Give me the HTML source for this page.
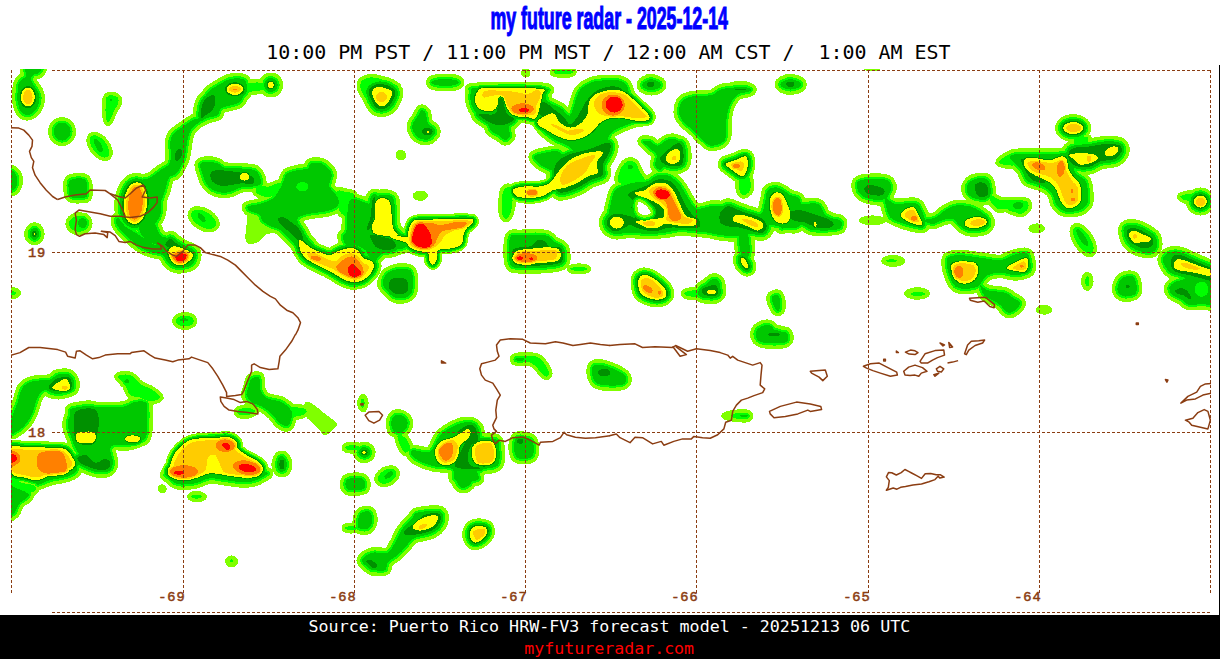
<!DOCTYPE html>
<html><head><meta charset="utf-8"><title>my future radar</title>
<style>
html,body{margin:0;padding:0;background:#fff;}
body{width:1220px;height:659px;position:relative;overflow:hidden;font-family:"Liberation Sans",sans-serif;}
#map{position:absolute;left:0;top:0;}
#foot{position:absolute;left:0;top:615px;width:1220px;height:44px;background:#000;}
#edge{position:absolute;left:1219px;top:65px;width:1px;height:550px;background:#000;}
.mono{font-family:"DejaVu Sans Mono","Liberation Mono",monospace;}
</style></head><body>
<div id="foot"></div><div id="edge"></div>
<svg id="map" width="1220" height="659" viewBox="0 0 1220 659">
<defs><clipPath id="mc"><rect x="11" y="69" width="1200" height="544"/></clipPath></defs>
<g clip-path="url(#mc)" shape-rendering="crispEdges">
<defs><path id="s0" d="M26 66C28.5 64.3 38.8 64.9 41 66C43.2 67.1 40.8 71 39.5 72.5C38.2 74 34.4 73.8 33 75C31.6 76.2 31 78 31 79.5C31 81 32 82.2 33 84C34 85.8 35.9 87.8 37 90C38.1 92.2 39.3 94.3 39.5 97C39.7 99.7 39.1 103.3 38 106C36.9 108.7 35 111.5 33 113C31 114.5 28.1 115.3 26 115C23.9 114.7 21.8 113 20.5 111C19.2 109 18.5 105.7 18 103C17.5 100.3 17.5 97.7 17.5 95C17.5 92.3 17.8 89 18 87C18.2 85 18.3 84.2 19 83C19.7 81.8 20.8 80.7 22 79.5C23.2 78.3 25.3 78.2 26 76C26.7 73.8 23.5 67.7 26 66Z"/><ellipse id="s1" cx="27.9" cy="97.2" rx="4.7" ry="7.2"/><path id="s2" d="M106.4 97.6C107.4 95.9 109.5 95.1 111.4 95.1C113.3 95.1 116.5 96.1 117.7 97.6C118.8 99 118.7 101.7 118.2 103.8C117.6 105.9 115.7 107.6 114.4 110.1C113.2 112.6 111.8 116.8 110.7 118.8C109.5 120.9 108.5 123.2 107.7 122.6C106.8 122 106 118 105.7 115.1C105.3 112.2 105.5 108 105.7 105.1C105.8 102.1 105.4 99.2 106.4 97.6Z"/><ellipse id="s3" cx="110.9" cy="100.1" rx="1" ry="1"/><ellipse id="s4" cx="62.1" cy="131.6" rx="8.5" ry="9"/><ellipse id="s5" cx="99.6" cy="146.4" rx="7" ry="13" transform="rotate(-38 99.6 146.4)"/><ellipse id="s6" cx="98.4" cy="145.6" rx="3" ry="7.5" transform="rotate(-28 98.4 145.6)"/><path id="s7" d="M201.1 111.8C201.8 109.1 202.6 104.9 203.8 101.6C205 98.3 205.2 95.1 208.1 92C210.9 89 217.2 85.5 221.1 83.3C225 81.1 227.6 79.4 231.3 78.8C235.1 78.1 241.1 78.1 243.6 79.3C246.2 80.5 246.6 83.5 246.6 86C246.6 88.6 244.7 91.8 243.6 94.6C242.5 97.3 241.9 100.5 239.9 102.3C237.8 104.1 234.5 104.3 231.3 105.3C228.2 106.3 223.4 106.7 221.1 108.3C218.8 109.9 219.3 113.6 217.6 115.1C215.9 116.5 213.1 116.3 210.8 117.1C208.5 117.8 206.1 118.4 203.8 119.6C201.5 120.8 198.8 122.5 196.8 124.1C194.8 125.7 193 127.1 191.5 129.1C190.1 131.1 189.1 133.2 188.3 136.1C187.4 139 187.1 142.9 186.5 146.4C185.9 149.8 185.7 153.7 184.8 156.9C183.9 160.1 182.7 162.5 181.3 165.4C179.8 168.3 178.1 172.1 176 174.2C174 176.2 170.8 175 169 177.7C167.2 180.3 166.7 186 165.2 190.2C163.8 194.4 162.3 199.4 160.2 202.7C158.2 206.1 154.8 210.6 152.7 210.2C150.6 209.8 148.6 204.4 147.7 200.2C146.9 196 149 188.4 147.7 185.2C146.5 181.9 139.8 181.9 140.2 180.7C140.6 179.4 146.9 179.4 150.2 177.7C153.6 175.9 157.1 172.5 160.2 170.2C163.4 167.9 167.5 166.7 169.3 163.9C171 161.1 170.9 156.9 171 153.4C171.1 149.9 169.7 146.3 170 143.1C170.3 140 171.2 136.7 172.8 134.4C174.3 132 177.2 130.8 179.5 129.1C181.8 127.4 184.2 125.7 186.5 124.1C188.9 122.5 191.4 120.6 193.5 119.6C195.7 118.5 198.3 119.1 199.5 117.8C200.8 116.5 200.3 114.5 201.1 111.8Z"/><path id="s8" d="M202.1 105.1C203.1 101.6 205.3 98.9 207.3 97.3C209.3 95.7 212.8 94.6 214.1 95.6C215.4 96.6 215.4 100.9 215.1 103.3C214.8 105.7 213.9 108.1 212.3 110.1C210.7 112.1 207.4 114 205.6 115.3C203.7 116.6 201.6 119.5 201.1 117.8C200.5 116.1 201 108.5 202.1 105.1Z"/><ellipse id="s9" cx="178.3" cy="155.1" rx="3.3" ry="6.3" transform="rotate(20 178.3 155.1)"/><ellipse id="s10" cx="234.9" cy="89.3" rx="6" ry="3.3"/><ellipse id="s11" cx="234.9" cy="89.3" rx="2" ry="0.4"/><ellipse id="s12" cx="270.9" cy="85" rx="2.8" ry="3"/><path id="s13" d="M246.6 83.8C249.3 82.4 260.2 82.1 262.9 83C265.6 84 265.6 88.2 262.9 89.5C260.2 90.9 249.3 92.3 246.6 91.3C243.9 90.3 243.9 85.2 246.6 83.8Z"/><ellipse id="s14" cx="135.5" cy="203.2" rx="7.3" ry="16.5" transform="rotate(5 135.5 203.2)"/><ellipse id="s15" cx="134.5" cy="213" rx="1.8" ry="0.5"/><ellipse id="s16" cx="10" cy="180.7" rx="7.5" ry="10.5"/><path id="s17" d="M70.1 180.2C72.8 178.4 82.3 177.2 85.1 179.7C88 182.2 87.5 192.2 87.1 195.2C86.7 198.2 85.3 197.4 82.6 197.7C80 198 73.7 198.5 71.4 197.2C69.1 196 69.1 193 68.9 190.2C68.6 187.4 67.4 181.9 70.1 180.2Z"/><path id="s18" d="M471.3 91.3C472.4 89.3 465.6 88.6 477.5 88C489.4 87.5 531.1 86.9 542.6 88C554.1 89.2 546 90.5 546.4 95C546.8 99.6 546.2 110.7 545.1 115.1C544.1 119.5 542.6 120.7 540.1 121.3C537.6 122 533.4 119.5 530.1 118.8C526.8 118.2 523.2 117.2 520.1 117.6C517 118 513.2 119.7 511.3 121.3C509.4 123 509 125.1 508.8 127.6C508.6 130.1 510.7 134.3 510.1 136.4C509.4 138.4 506.9 140.2 505.1 140.1C503.2 140 501.1 137.1 498.8 135.6C496.5 134.1 493.2 133.3 491.3 131.3C489.4 129.4 489.2 126.1 487.5 123.8C485.9 121.5 483.6 119.9 481.3 117.6C479 115.3 475.6 113 473.8 110.1C472 107.1 470.9 103.2 470.5 100.1C470.1 96.9 470.1 93.3 471.3 91.3Z"/><path id="s19" d="M478.8 113.8C480 112.6 491.7 116.1 495.1 113.8C498.4 111.5 497.6 102.6 498.8 100.1C500.1 97.5 501.3 96.7 502.6 98.8C503.8 100.9 504.4 109.2 506.3 112.6C508.2 115.9 513.6 117 513.8 118.8C514 120.7 510.3 122.8 507.6 123.8C504.9 124.9 500.9 125.5 497.6 125.1C494.2 124.7 490.7 123.2 487.5 121.3C484.4 119.5 477.5 115.1 478.8 113.8Z"/><path id="s20" d="M475 97.5C475.3 94.8 476.7 91.6 478.8 90C480.9 88.5 477.3 88.5 487.5 88.3C497.8 88.1 531 87.7 540.1 88.8C549.2 89.9 542.1 92.3 542.1 95C542.1 97.8 540.9 101.7 540.1 105.1C539.4 108.4 538.7 112.8 537.6 115.1C536.6 117.4 535.9 118.6 533.9 118.8C531.8 119 528.2 117.2 525.1 116.3C522 115.5 518 115.1 515.1 113.8C512.2 112.6 509.3 111.1 507.6 108.8C505.8 106.5 505.6 102.1 504.6 100.1C503.5 98 502.4 96.5 501.3 96.3C500.2 96.1 498.8 97.1 498.1 98.8C497.3 100.5 498 104.4 497.1 106.3C496.1 108.3 494.8 109.9 492.5 110.6C490.3 111.3 486.4 111.3 483.8 110.6C481.2 109.9 478.5 108.5 477 106.3C475.6 104.1 474.7 100.3 475 97.5Z"/><path id="s21" d="M482.5 93.8C483.2 92.6 483 91 487.5 90.5C492.1 90.1 504.7 90.9 510.1 91.3C515.5 91.7 517 92.6 520.1 93C523.2 93.5 526.3 94.2 528.9 93.8C531.4 93.4 533.2 91 535.1 90.5C537 90.1 539.3 90.1 540.1 91.3C541 92.5 540.7 95.3 540.1 97.5C539.5 99.8 537.2 102.3 536.4 105.1C535.5 107.8 536.6 112.2 535.1 113.8C533.7 115.5 530.5 115.1 527.6 115.1C524.7 115.1 520.5 114.7 517.6 113.8C514.7 113 512 111.9 510.1 110.1C508.2 108.2 507.4 104.9 506.3 102.6C505.3 100.3 505.3 97.5 503.8 96.3C502.4 95 499.9 95 497.6 95C495.3 95 492.3 95.9 490 96.3C487.7 96.7 485 98 483.8 97.5C482.5 97.1 481.9 95 482.5 93.8Z"/><ellipse id="s22" cx="522.6" cy="108.8" rx="11.3" ry="5.5"/><ellipse id="s23" cx="524.1" cy="110.1" rx="5" ry="2"/><path id="s24" d="M578.9 91.3C582.5 85.9 587.7 84.3 591.4 82.5C595.2 80.7 596.9 80.9 601.5 80.5C606.1 80.2 614.8 79.8 619 80.5C623.2 81.3 624.6 82.6 626.5 85C628.4 87.5 628 91.7 630.3 95C632.6 98.4 637.1 101.9 640.3 105.1C643.4 108.2 647.6 111.5 649 113.8C650.5 116.1 651.3 117.5 649 118.8C646.7 120.2 640.1 120.6 635.3 122.1C630.5 123.5 624.4 125.6 620.2 127.6C616.1 129.6 612.7 130.5 610.2 133.9C607.7 137.2 606.9 143.2 605.2 147.6C603.5 152 603.5 157.2 600.2 160.1C596.9 163.1 590.2 167.2 585.2 165.2C580.2 163.1 575.2 151.8 570.2 147.6C565.2 143.5 559.7 143 555.1 140.1C550.6 137.2 545.5 133.4 542.6 130.1C539.7 126.8 537.6 124.7 537.6 120.1C537.6 115.5 538.9 104.6 542.6 102.6C546.4 100.5 555.6 105.5 560.2 107.6C564.7 109.7 567 117.8 570.2 115.1C573.3 112.4 575.4 96.7 578.9 91.3Z"/><path id="s25" d="M537.6 105.1C538.5 103 542.2 101.7 545.1 102.6C548 103.4 552.1 107.8 555.1 110.1C558.1 112.4 560.7 113.9 563.2 116.3C565.7 118.7 567.8 124.5 570.2 124.6C572.5 124.7 575.1 119.9 577.2 117.1C579.3 114.2 580.7 110.8 582.7 107.6C584.6 104.3 586.2 100.6 588.9 97.5C591.7 94.5 595.2 91.4 599 89.5C602.7 87.7 607.9 86.5 611.5 86.3C615 86 618.8 87 620.2 88C621.7 89.1 623.6 91.4 620.2 92.5C616.9 93.7 605.2 93 600.2 95C595.2 97.1 592.7 101.3 590.2 105.1C587.7 108.8 588.5 113.6 585.2 117.6C581.8 121.5 574.3 127.8 570.2 128.8C566 129.9 563.5 125.9 560.2 123.8C556.8 121.8 553.5 117.8 550.1 116.3C546.8 114.9 542.2 117 540.1 115.1C538 113.2 536.8 107.1 537.6 105.1Z"/><path id="s26" d="M537.6 121.3C538.7 119.5 543.7 116.3 546.4 115.1C549.1 113.8 551.6 112.6 553.9 113.8C556.2 115.1 557.4 120.3 560.2 122.6C562.9 124.9 566.8 127.4 570.2 127.6C573.5 127.8 577.3 126.1 580.2 123.8C583.1 121.5 586.2 117.4 587.7 113.8C589.2 110.3 587.7 105.8 588.9 102.6C590.2 99.3 591.7 96.6 595.2 94.5C598.7 92.5 605.6 90.6 610.2 90C614.8 89.5 619 89.8 622.7 91.3C626.5 92.7 629.4 95.9 632.8 98.8C636.1 101.7 640.1 106.1 642.8 108.8C645.5 111.5 648.2 113.2 649 115.1C649.9 117 650.1 119.2 647.8 120.1C645.5 121 639.9 121 635.3 120.6C630.7 120.2 624.8 117.9 620.2 117.6C615.7 117.3 611.3 117.8 607.7 118.8C604.2 119.9 601.5 121.8 599 123.8C596.5 125.9 595.4 129.1 592.7 131.3C590 133.6 586.4 136.1 582.7 137.6C578.9 139.1 574.3 140.3 570.2 140.1C566 139.9 561.4 137.9 557.6 136.4C553.9 134.8 550.6 132.3 547.6 130.6C544.7 128.9 541.8 127.9 540.1 126.3C538.5 124.8 536.6 123.2 537.6 121.3Z"/><ellipse id="s27" cx="614.2" cy="104.6" rx="8.5" ry="8"/><ellipse id="s28" cx="613.2" cy="105.1" rx="11.5" ry="10.5"/><path id="s29" d="M550.1 123.8C550.3 124.5 556.4 128.7 560.2 130.6C563.9 132.5 568.7 135.1 572.7 135.1C576.6 135.1 583.1 131.6 583.9 130.6C584.8 129.6 580.4 128.8 577.7 128.8C575 128.8 570.8 131 567.7 130.6C564.5 130.2 561.8 127.5 558.9 126.3C556 125.2 549.9 123.1 550.1 123.8Z"/><path id="s30" d="M594 102.6C594.4 99.6 597.1 96.3 600.2 94.5C603.3 92.8 608.6 92 612.7 92C616.9 92.1 621.9 93.3 625.2 95C628.6 96.8 629.8 99.6 632.8 102.6C635.7 105.5 640.5 110.2 642.8 112.6C645.1 115 647.8 116.2 646.5 117.1C645.3 118 639.2 118.2 635.3 118.1C631.3 118 627.3 116.6 622.7 116.3C618.2 116 611.9 117 607.7 116.3C603.5 115.7 600 114.9 597.7 112.6C595.4 110.3 593.5 105.6 594 102.6Z"/><path id="s31" d="M555.1 165.2C557.2 160.6 561.8 157.8 567.7 155.1C573.5 152.4 583.5 151 590.2 148.9C596.9 146.8 604.4 142.4 607.7 142.6C611.1 142.8 611.1 146.4 610.2 150.1C609.4 153.9 604 161 602.7 165.2C601.5 169.3 604.8 172.7 602.7 175.2C600.6 177.7 594.4 178.1 590.2 180.2C586 182.3 582.7 185.6 577.7 187.7C572.7 189.8 563.9 193.5 560.2 192.7C556.4 191.9 556 187.3 555.1 182.7C554.3 178.1 553.1 169.7 555.1 165.2Z"/><path id="s32" d="M513.8 188.9C515.5 187.5 520.7 186.8 525.1 186.4C529.5 186 535.9 187.1 540.1 186.4C544.3 185.8 547.2 185 550.1 182.7C553.1 180.4 554.7 176.2 557.6 172.7C560.6 169.1 563.5 164.5 567.7 161.4C571.8 158.3 577.3 155.6 582.7 153.9C588.1 152.2 597 151.2 600.2 151.4C603.5 151.6 602.8 153.3 602.2 155.1C601.6 157 597.2 159.7 596.5 162.6C595.7 165.6 599.2 170.4 597.7 172.7C596.2 175 591 174.7 587.7 176.4C584.4 178.1 581.4 180.8 577.7 182.7C573.9 184.6 569.3 186.4 565.2 187.7C561 188.9 556 188.9 552.6 190.2C549.3 191.4 548 193.9 545.1 195.2C542.2 196.4 538.9 197.3 535.1 197.7C531.4 198.1 525.9 198.1 522.6 197.7C519.3 197.3 516.5 196.7 515.1 195.2C513.6 193.7 512.2 190.4 513.8 188.9Z"/><path id="s33" d="M560.2 177.7C561 174.4 563.9 168.4 567.7 165.2C571.4 161.9 578.1 159.8 582.7 158.1C587.3 156.5 594 154.2 595.2 155.1C596.5 156.1 591.9 161 590.2 163.9C588.5 166.8 588.1 169.7 585.2 172.7C582.3 175.6 576.4 179.4 572.7 181.4C568.9 183.4 564.7 185.3 562.7 184.7C560.6 184.1 559.3 180.9 560.2 177.7Z"/><ellipse id="s34" cx="532.1" cy="192.7" rx="5" ry="2.8"/><ellipse id="s35" cx="651.5" cy="85" rx="9.5" ry="5"/><ellipse id="s36" cx="650.8" cy="84.5" rx="3.5" ry="2.8"/><path id="s37" d="M679.1 108.8C679.6 106.1 680.5 102.1 682.8 100.1C685.1 98 688.1 97.1 692.8 96.3C697.6 95.5 706.6 96.3 711.6 95C716.6 93.8 716.8 90 722.9 88.8C728.9 87.6 743.4 87.6 747.9 88C752.4 88.5 751.6 90.2 749.9 91.3C748.3 92.4 741.2 92.5 737.9 94.5C734.7 96.6 732.3 100 730.4 103.8C728.5 107.6 727.4 112.2 726.6 117.6C725.9 123 726.7 132.1 725.9 136.4C725.1 140.6 724.2 141.6 721.6 143.1C719.1 144.7 713.5 146.1 710.4 145.6C707.2 145.1 705.6 142.5 702.9 140.1C700.2 137.7 697 134.1 694.1 131.3C691.2 128.6 687.7 126.3 685.3 123.8C683 121.3 680.9 118.8 679.8 116.3C678.8 113.8 678.6 111.5 679.1 108.8Z"/><ellipse id="s38" cx="740.4" cy="89.5" rx="5.5" ry="0.5"/><path id="s39" d="M725.4 163.9C726 162.3 732.1 161.4 735.4 160.1C738.8 158.9 743.3 155.6 745.4 156.4C747.5 157.2 748.1 162 747.9 165.2C747.7 168.3 745.6 173.5 744.2 175.2C742.7 176.8 741.3 176.1 739.2 175.2C737.1 174.2 734 171.5 731.7 169.7C729.4 167.8 724.8 165.5 725.4 163.9Z"/><path id="s40" d="M730.4 164.6C731.2 163.5 738.1 161.5 740.4 161.4C742.7 161.3 744 162.2 744.2 163.9C744.4 165.6 743.1 170.7 741.7 171.4C740.2 172.1 737.3 169.3 735.4 168.2C733.5 167 729.6 165.8 730.4 164.6Z"/><ellipse id="s41" cx="736.7" cy="165.9" rx="3.5" ry="2"/><path id="s42" d="M642.8 141.4C642.8 140.1 647.8 140.7 650.3 141.4C652.8 142.1 654.9 145.9 657.8 145.6C660.7 145.3 664.6 140.5 667.8 139.6C671.1 138.7 675.3 138.8 677.3 140.1C679.3 141.4 679.4 143.9 679.8 147.6C680.2 151.4 680.6 159.7 679.8 162.6C679.1 165.6 677.7 164.7 675.3 165.2C672.9 165.6 667.8 164.3 665.3 165.2C662.8 166 662 170.2 660.3 170.2C658.6 170.2 655.9 167.7 655.3 165.2C654.7 162.6 657.4 157.8 656.5 155.1C655.7 152.4 652.6 151.2 650.3 148.9C648 146.6 642.8 142.6 642.8 141.4Z"/><path id="s43" d="M660.3 157.6C660.9 155.3 664.9 152.5 667.8 150.1C670.7 147.7 675.3 143.5 677.8 143.1C680.3 142.7 682 144.4 682.8 147.6C683.7 150.9 684.1 159.5 682.8 162.6C681.6 165.8 678.5 166.2 675.3 166.4C672.2 166.6 666.6 165.4 664.1 163.9C661.6 162.4 659.7 159.9 660.3 157.6Z"/><path id="s44" d="M665.8 157.6C666.2 155.8 668.4 152.8 670.3 151.4C672.2 149.9 675.7 148.5 677.3 148.9C679 149.3 680 151.8 680.3 153.9C680.6 156 680.3 159.7 679.1 161.4C677.8 163.1 674.7 163.8 672.8 163.9C670.9 164 669 163.2 667.8 162.1C666.6 161.1 665.4 159.4 665.8 157.6Z"/><ellipse id="s45" cx="674.3" cy="158.1" rx="2.3" ry="2.3"/><path id="s46" d="M368.8 90.5C369.7 88 373.4 85.5 376.4 84.5C379.3 83.6 383.2 83.9 386.4 85C389.5 86.2 394.1 88.6 395.1 91.3C396.2 94 394.1 98.5 392.6 101.3C391.2 104.1 389 106.9 386.4 108.1C383.8 109.2 379.6 109.4 377.1 108.1C374.6 106.7 372.7 103 371.3 100.1C370 97.1 368 93.1 368.8 90.5Z"/><path id="s47" d="M534.1 156.4C534.9 154.8 538.9 154 542.9 153.1C546.8 152.3 554.1 150.2 557.9 151.4C561.6 152.6 565.8 157 565.4 160.2C565 163.3 558.7 168.9 555.4 170.2C552 171.4 548.3 168.9 545.4 167.7C542.4 166.4 539.7 164.5 537.8 162.7C536 160.8 533.3 158 534.1 156.4Z"/><path id="s48" d="M361.3 81.3C362.9 79.4 367 77.9 370.1 77.5C373.2 77.1 376.8 77.7 380.1 78.8C383.5 79.8 387.2 82.5 390.1 83.8C393 85 396.5 84.4 397.6 86.3C398.8 88.2 398.2 92.1 397.1 95.1C396.1 98 393.4 101.3 391.4 103.8C389.4 106.3 387.4 108.9 385.1 110.1C382.8 111.2 379.9 111.5 377.6 110.8C375.3 110.2 373.4 108.5 371.3 106.3C369.3 104.1 366.9 100.5 365.1 97.6C363.3 94.6 361.2 91.5 360.6 88.8C360 86.1 359.7 83.2 361.3 81.3Z"/><path id="s49" d="M372.1 91.3C372.7 89.3 375.4 87.6 377.6 87C379.8 86.5 382.7 87.2 385.1 88C387.5 88.9 391.4 90 392.1 92C392.9 94.1 390.9 97.8 389.6 100.1C388.4 102.3 386.5 104.7 384.6 105.6C382.7 106.4 379.9 106.2 378.1 105.1C376.3 103.9 374.9 101.1 373.9 98.8C372.9 96.5 371.5 93.3 372.1 91.3Z"/><ellipse id="s50" cx="381.4" cy="97.1" rx="5.5" ry="5"/><path id="s51" d="M421.4 110.1C422.8 109.4 424.6 111 425.7 113.1C426.7 115.2 426.3 120 427.7 122.6C429 125.2 432.7 126.8 433.7 128.9C434.7 130.9 434.7 133.3 433.7 135.1C432.7 136.9 430.1 139.1 427.7 139.6C425.2 140.1 421.3 139.5 418.9 138.1C416.5 136.7 414.2 133.7 413.2 131.4C412.1 129 412 126.2 412.7 123.8C413.3 121.5 415.7 119.4 417.2 117.1C418.6 114.8 420 110.7 421.4 110.1Z"/><ellipse id="s52" cx="427.2" cy="131.6" rx="5.5" ry="3.8"/><ellipse id="s53" cx="428.4" cy="131.9" rx="1.3" ry="0.8"/><ellipse id="s54" cx="400.9" cy="155.1" rx="5.3" ry="5.3"/><ellipse id="s55" cx="420.4" cy="195.5" rx="7.5" ry="5"/><ellipse id="s56" cx="445.2" cy="82.5" rx="13.8" ry="3.5"/><ellipse id="s57" cx="1073.2" cy="128.1" rx="10" ry="6"/><ellipse id="s58" cx="1073.7" cy="128.1" rx="7.5" ry="4"/><ellipse id="s59" cx="1111.5" cy="151.4" rx="7.5" ry="4.3" transform="rotate(-25 1111.5 151.4)"/><path id="s60" d="M1069 155.1C1069.8 154 1076.1 153.2 1080.2 153.1C1084.4 153.1 1091.1 153.7 1094 154.6C1096.9 155.6 1098.4 157.5 1097.8 158.9C1097.1 160.3 1093.2 162.2 1090.3 163.2C1087.3 164.1 1082.8 165.2 1080.2 164.7C1077.7 164.2 1077.1 161.7 1075.2 160.2C1073.4 158.6 1068.1 156.3 1069 155.1Z"/><ellipse id="s61" cx="1089" cy="158.9" rx="2.5" ry="3"/><path id="s62" d="M1071.5 148.9C1075 146.6 1084.6 147.2 1090.3 146.4C1095.9 145.5 1100.5 144.1 1105.3 143.9C1110.1 143.7 1116.3 143.9 1119.1 145.1C1121.8 146.4 1122.2 149.1 1121.6 151.4C1120.9 153.7 1118.8 157.2 1115.3 158.9C1111.8 160.6 1104.5 160.2 1100.3 161.4C1096.1 162.7 1094 165.6 1090.3 166.4C1086.5 167.2 1081.3 167.5 1077.7 166.4C1074.2 165.4 1070 163.1 1069 160.2C1067.9 157.2 1067.9 151.2 1071.5 148.9Z"/><path id="s63" d="M1075.2 137.6C1077.3 135.9 1086.1 135.9 1087.8 137.6C1089.4 139.3 1087.3 146 1085.3 147.6C1083.2 149.3 1076.9 149.3 1075.2 147.6C1073.6 146 1073.2 139.3 1075.2 137.6Z"/><path id="s64" d="M1023.9 160.2C1024.8 158.7 1027.5 157.9 1030.2 157.6C1032.9 157.4 1036.8 158.5 1040.2 158.9C1043.5 159.3 1046.7 160.6 1050.2 160.2C1053.7 159.7 1058.8 156.6 1061.5 156.4C1064.2 156.2 1065.2 156.6 1066.5 158.9C1067.7 161.2 1067.5 166.8 1069 170.2C1070.4 173.5 1073.4 176.4 1075.2 178.9C1077.1 181.4 1079.3 181.6 1080.2 185.2C1081.2 188.7 1081.6 196.7 1080.7 200.2C1079.9 203.8 1077.6 205.2 1075.2 206.5C1072.9 207.7 1069 208.8 1066.5 207.7C1064 206.7 1061.9 203.1 1060.2 200.2C1058.5 197.3 1058.1 193.1 1056.5 190.2C1054.8 187.3 1052.9 184.8 1050.2 182.7C1047.5 180.6 1043.5 179.3 1040.2 177.7C1036.8 176 1032.8 174.5 1030.2 172.7C1027.6 170.8 1025.7 168.5 1024.7 166.4C1023.6 164.3 1023 161.6 1023.9 160.2Z"/><path id="s65" d="M1027.7 162.2C1029.1 160.7 1036.2 161.2 1040.2 161.4C1044.2 161.6 1047.7 163.4 1051.5 163.2C1055.2 162.9 1060.4 159.4 1062.7 160.2C1065 160.9 1063.8 164.3 1065.2 167.7C1066.7 171 1069.4 176.8 1071.5 180.2C1073.6 183.5 1076.7 184.4 1077.7 187.7C1078.8 191 1078.6 197.4 1077.7 200.2C1076.9 203 1074.6 204.1 1072.7 204.7C1070.9 205.3 1068.1 205.3 1066.5 204C1064.8 202.6 1064 199.4 1062.7 196.5C1061.5 193.5 1060.8 189.6 1059 186.4C1057.1 183.3 1054.6 179.8 1051.5 177.7C1048.3 175.6 1043.5 175.2 1040.2 173.9C1036.8 172.7 1033.5 172.1 1031.4 170.2C1029.3 168.2 1026.2 163.6 1027.7 162.2Z"/><ellipse id="s66" cx="1038.9" cy="166.4" rx="7" ry="3.5" transform="rotate(20 1038.9 166.4)"/><ellipse id="s67" cx="1060.7" cy="168.9" rx="4" ry="8" transform="rotate(5 1060.7 168.9)"/><ellipse id="s68" cx="1073.2" cy="199.5" rx="2.3" ry="2"/><ellipse id="s69" cx="1072" cy="190.7" rx="0.8" ry="2.5"/><path id="s70" d="M1021.4 158.9C1019.7 158.9 1023.3 166.6 1025.2 170.2C1027 173.7 1029.3 178.1 1032.7 180.2C1036 182.3 1044.8 184.4 1045.2 182.7C1045.6 181 1039.1 174.1 1035.2 170.2C1031.2 166.2 1023.1 158.9 1021.4 158.9Z"/><path id="s71" d="M1010.1 156.4C1011.2 154.9 1012.6 154.3 1020.2 153.9C1027.7 153.5 1047.7 154 1055.2 153.9C1062.7 153.8 1062.5 152.1 1065.2 153.1C1067.9 154.2 1069.8 156.9 1071.5 160.2C1073.2 163.4 1072.9 169.3 1075.2 172.7C1077.5 176 1083.2 177.3 1085.3 180.2C1087.3 183.1 1087.3 186.4 1087.8 190.2C1088.2 194 1089 199.4 1087.8 202.7C1086.5 206.1 1084 208.8 1080.2 210.2C1076.5 211.7 1069.2 212.3 1065.2 211.5C1061.3 210.6 1058.8 208.3 1056.5 205.2C1054.2 202.1 1054.2 196 1051.5 192.7C1048.7 189.4 1044.2 187.1 1040.2 185.2C1036.2 183.3 1030.8 183.9 1027.7 181.4C1024.5 178.9 1023.7 173.3 1021.4 170.2C1019.1 167 1015.8 164.9 1013.9 162.7C1012 160.4 1009.1 157.9 1010.1 156.4Z"/><path id="s72" d="M998.9 162.7C998 160.8 1006.6 155.1 1010.1 153.9C1013.7 152.6 1019.3 153.3 1020.2 155.1C1021 157 1018.7 163.9 1015.2 165.2C1011.6 166.4 999.7 164.5 998.9 162.7Z"/><ellipse id="s73" cx="977.6" cy="188.9" rx="11" ry="10"/><path id="s74" d="M975.1 184.7C975.9 183.1 978.7 182.2 980.6 182.2C982.5 182.2 985.1 182.9 986.4 184.7C987.6 186.4 988.4 190.6 988.1 192.7C987.8 194.8 986.1 196.6 984.6 197.2C983.1 197.8 980.3 197.4 978.8 196.5C977.3 195.5 976.2 193.4 975.6 191.4C975 189.5 974.3 186.2 975.1 184.7Z"/><ellipse id="s75" cx="1017.2" cy="206.5" rx="10.5" ry="6"/><ellipse id="s76" cx="1018.7" cy="205.2" rx="4.5" ry="3"/><path id="s77" d="M990.1 200.2C990.5 199.4 997.2 202.7 1000.1 204C1003 205.2 1008.1 206.9 1007.6 207.7C1007.2 208.6 1000.5 210.2 997.6 209C994.7 207.7 989.7 201 990.1 200.2Z"/><ellipse id="s78" cx="1200.4" cy="201.5" rx="6.5" ry="6"/><ellipse id="s79" cx="1200.4" cy="202" rx="4.5" ry="4.3"/><path id="s80" d="M1180.4 196.5C1181.2 195.4 1187.9 193.3 1190.4 194C1192.9 194.6 1196.3 199.2 1195.4 200.2C1194.6 201.3 1187.9 200.8 1185.4 200.2C1182.9 199.6 1179.6 197.5 1180.4 196.5Z"/><path id="s81" d="M740.2 177.7C741.9 175.8 747.3 174.3 749 176.4C750.6 178.5 751.3 187.1 750.2 190.2C749.2 193.3 744.6 195.6 742.7 195.2C740.8 194.8 739.4 190.6 738.9 187.7C738.5 184.8 738.5 179.6 740.2 177.7Z"/><ellipse id="s82" cx="790.8" cy="84.5" rx="10.5" ry="4.8"/><ellipse id="s83" cx="790.3" cy="84.3" rx="4" ry="2.8"/><ellipse id="s84" cx="874.9" cy="190.2" rx="10" ry="4.5" transform="rotate(10 874.9 190.2)"/><path id="s85" d="M856.6 185.2C856.6 182.4 858.1 180.6 862.9 179.7C867.7 178.8 880.8 178.3 885.4 179.7C890 181 890.4 184.9 890.4 187.7C890.4 190.5 887.1 194.4 885.4 196.5C883.7 198.5 884.2 200.2 880.4 200.2C876.6 200.2 866.8 199 862.9 196.5C858.9 194 856.6 188 856.6 185.2Z"/><path id="s86" d="M117.7 217.6C119.1 218 122.3 223.8 125.2 226.3C128.1 228.8 131.9 230.5 135.2 232.6C138.5 234.7 141.9 236.8 145.2 238.9C148.6 240.9 151.9 244.5 155.2 245.1C158.6 245.7 162.7 243.9 165.2 242.6C167.8 241.3 168.4 237.3 170.3 237.1C172.1 236.9 174.2 240 176.5 241.4C178.8 242.7 180.9 243.4 184 245.1C187.2 246.8 193.6 248.5 195.3 251.4C197 254.3 195.5 260 194 262.6C192.6 265.3 189.7 266.3 186.5 267.1C183.4 268 178.4 268.4 175.3 267.6C172.1 266.9 169.8 264.7 167.8 262.6C165.7 260.6 165.2 256.8 162.7 255.1C160.2 253.5 156.1 253.7 152.7 252.6C149.4 251.6 146.1 250.7 142.7 248.9C139.4 247 136 244.1 132.7 241.4C129.4 238.6 125.4 235.5 122.7 232.6C120 229.7 117.3 226.3 116.4 223.8C115.6 221.3 116.2 217.2 117.7 217.6Z"/><path id="s87" d="M147.7 185C149.8 179.2 157.9 182.5 160.2 185C162.5 187.5 161.5 195 161.5 200C161.5 205.1 161.5 211.1 160.2 215.1C159 219 156.1 223 154 223.8C151.9 224.7 148.8 226.5 147.7 220.1C146.7 213.6 145.6 190.9 147.7 185Z"/><path id="s88" d="M165.2 245.1C164.8 243.7 168.6 239.3 170.3 238.9C171.9 238.4 173.6 241.4 175.3 242.6C176.9 243.9 180.7 245.5 180.3 246.4C179.9 247.2 175.3 247.8 172.8 247.6C170.3 247.4 165.7 246.6 165.2 245.1Z"/><path id="s89" d="M168.3 251.4C168.5 249 170.8 247 172.8 246.4C174.8 245.7 178 247 180.3 247.6C182.6 248.2 184.4 249.1 186.5 250.1C188.6 251.2 192 252.4 192.8 253.9C193.6 255.3 192.8 257.3 191.5 258.9C190.3 260.4 187.6 262.2 185.3 263.1C183 264.1 180.1 265.1 177.8 264.6C175.5 264.2 173.1 262.8 171.5 260.6C169.9 258.4 168 253.8 168.3 251.4Z"/><path id="s90" d="M140.2 220.1C142.3 218 149.4 217.6 152.7 220.1C156.1 222.6 157.3 232 160.2 235.1C163.2 238.2 169.4 237.2 170.3 238.9C171.1 240.5 168.6 244.5 165.2 245.1C161.9 245.7 154.4 244.7 150.2 242.6C146.1 240.5 141.9 236.3 140.2 232.6C138.5 228.8 138.1 222.2 140.2 220.1Z"/><path id="s91" d="M172.8 255.1C173.8 253.8 177.8 251.6 180.3 251.4C182.8 251.2 186.7 252.5 187.8 253.9C188.8 255.3 188 258.2 186.5 259.6C185.1 261.1 181.1 262.6 179 262.6C176.9 262.6 175.1 260.9 174 259.6C173 258.4 171.7 256.5 172.8 255.1Z"/><path id="s92" d="M175.3 257.1C175.7 255.8 179.6 253.7 181.5 253.4C183.4 253 186 254.1 186.5 255.1C187.1 256.2 186 258.6 184.8 259.6C183.5 260.7 180.6 261.8 179 261.4C177.4 261 174.8 258.5 175.3 257.1Z"/><ellipse id="s93" cx="34.6" cy="233.8" rx="4.5" ry="6"/><ellipse id="s94" cx="34.3" cy="234.1" rx="2.3" ry="3"/><ellipse id="s95" cx="34.3" cy="234.1" rx="0.8" ry="0.8"/><ellipse id="s96" cx="78.9" cy="223.8" rx="10" ry="8"/><ellipse id="s97" cx="82.6" cy="223.1" rx="4.5" ry="5"/><ellipse id="s98" cx="203.6" cy="219.3" rx="13.8" ry="7.8" transform="rotate(30 203.6 219.3)"/><ellipse id="s99" cx="201.6" cy="217.6" rx="2.5" ry="5.5" transform="rotate(-40 201.6 217.6)"/><ellipse id="s100" cx="12.5" cy="293.2" rx="8.5" ry="6"/><ellipse id="s101" cx="12" cy="293.2" rx="4" ry="2"/><ellipse id="s102" cx="184.8" cy="321" rx="9" ry="5.5"/><ellipse id="s103" cx="184" cy="319.7" rx="4.5" ry="1.3"/><path id="s104" d="M247.9 206.6C249.5 205.4 255.3 205.2 259.2 204C263.1 202.8 268.1 201.7 271.3 199.7C274.5 197.7 276.2 194.9 278.2 191.9C280.2 188.9 282 184.5 283.4 181.5C284.9 178.5 284.6 175.6 286.9 173.7C289.2 171.9 293.8 171.1 297.2 170.3C300.7 169.4 305.3 169.7 307.6 168.5C309.9 167.4 308.8 164.2 311.1 163.4C313.4 162.5 318.6 162.5 321.5 163.4C324.3 164.2 326.7 166.7 328.4 168.5C330.1 170.4 331.6 172.4 331.8 174.6C332.1 176.8 330.5 179.5 330.1 181.5C329.7 183.5 328.4 184.7 329.2 186.7C330.1 188.7 333.7 191.3 335.3 193.6C336.9 195.9 338.5 198.4 338.8 200.5C339.1 202.7 338.8 204.9 337 206.6C335.3 208.3 332.7 209.8 328.4 210.9C324.1 212.1 315.7 212.7 311.1 213.5C306.5 214.4 303 215 300.7 216.1C298.4 217.3 297 218.1 297.2 220.4C297.5 222.7 300.7 226.9 302.4 229.9C304.2 233 305.6 235.7 307.6 238.6C309.6 241.5 314 245.2 314.5 247.2C315.1 249.3 313.4 250.1 311.1 250.7C308.8 251.3 303.6 251.9 300.7 250.7C297.8 249.6 296.1 246.1 293.8 243.8C291.5 241.5 289.2 239.2 286.9 236.9C284.6 234.6 282.5 231.7 279.9 229.9C277.4 228.2 274.2 227.9 271.3 226.5C268.4 225 264.7 223.3 262.7 221.3C260.6 219.3 261.4 216.1 259.2 214.4C257 212.7 251.6 212.2 249.7 210.9C247.8 209.6 246.4 207.8 247.9 206.6Z"/><path id="s105" d="M244.5 205.7C243.9 206.6 246.9 212.7 247.1 217.8C247.2 223 245.2 232.6 245.4 236.9C245.5 241.1 245.8 242.6 247.9 243.4C250.1 244.3 255.3 243.6 258.3 242.1C261.4 240.5 263.7 235.9 266.1 234.3C268.6 232.7 273.6 234.4 273 232.5C272.5 230.7 266.4 226.3 262.7 223C258.9 219.7 253.6 215.5 250.5 212.7C247.5 209.8 245.1 204.9 244.5 205.7Z"/><path id="s106" d="M200 164.2C200.9 162.3 204.4 161.8 207.3 161.6C210.2 161.5 214.8 162.3 217.7 163.4C220.6 164.4 220.6 166.8 224.6 167.7C228.6 168.5 236.8 168.1 241.9 168.5C246.9 169 251.8 168.8 254.9 170.3C257.9 171.7 259.1 174.9 260.1 177.2C261 179.5 261.6 182.6 260.6 184.1C259.6 185.6 257.1 185.9 254 186.4C250.9 186.8 245.6 186.2 241.9 187.1C238.1 187.9 234.7 190.6 231.5 191.5C228.3 192.5 226 193 222.9 192.8C219.7 192.5 215.3 191.4 212.5 189.8C209.7 188.2 207.6 186.1 205.9 183.2C204.2 180.4 203.1 176 202.1 172.9C201.1 169.7 199.2 166.1 200 164.2Z"/><path id="s107" d="M210.4 173.7C211 171.9 212.7 170.7 215.9 170.3C219.2 169.8 225.5 170.7 229.8 171.1C234.1 171.6 238 171.9 241.9 172.9C245.8 173.9 251.4 175.3 253.1 177.2C254.9 179.1 254.1 183.1 252.3 184.1C250.4 185.1 245.6 183 241.9 183.2C238.1 183.4 233.2 184.9 229.8 185.3C226.3 185.8 224 186.5 221.1 185.8C218.3 185.2 214.3 183.5 212.5 181.5C210.7 179.5 209.8 175.6 210.4 173.7Z"/><ellipse id="s108" cx="244.5" cy="176.7" rx="4.8" ry="3.8"/><path id="s109" d="M259.2 185C261.2 184.1 264.4 187 267.8 186.7C271.3 186.4 278.5 182.1 279.9 183.2C281.4 184.4 278.8 191.3 276.5 193.6C274.2 195.9 269.6 197.4 266.1 197.1C262.7 196.8 256.9 193.9 255.7 191.9C254.6 189.9 257.2 185.8 259.2 185Z"/><path id="s110" d="M337 191.9C338.2 189 342.8 191.3 345.7 191.9C348.6 192.5 352.9 191.9 354.3 195.4C355.8 198.8 355.8 209.2 354.3 212.7C352.9 216.1 348.3 216.7 345.7 216.1C343.1 215.5 340.2 213.2 338.8 209.2C337.3 205.2 335.9 194.8 337 191.9Z"/><path id="s111" d="M350.2 200.1C354.2 195.7 365.9 204.5 370.3 203.8C374.7 203.2 373.6 197.8 376.5 196.3C379.5 194.9 384.9 194.4 387.8 195.1C390.7 195.7 392.8 195.1 394.1 200.1C395.3 205.1 393.8 219.3 395.3 225.1C396.8 231 400.7 233.2 402.8 235.1C404.9 237 407.4 234.3 407.8 236.4C408.2 238.5 408.2 245.4 405.3 247.6C402.4 249.9 394.5 248.9 390.3 250.2C386.1 251.4 383.2 253.1 380.3 255.2C377.4 257.2 375.3 263.5 372.8 262.7C370.3 261.8 368.2 253.1 365.3 250.2C362.3 247.2 358.4 246 355.2 245.1C352.1 244.3 348.6 246.6 346.5 245.1C344.4 243.7 342.7 238.9 342.7 236.4C342.7 233.9 345.2 236.2 346.5 230.1C347.7 224.1 346.3 204.5 350.2 200.1Z"/><path id="s112" d="M277.6 218.9C278 217.6 281 216.6 283.9 217.6C286.8 218.6 292.2 222.6 295.2 225.1C298.1 227.6 300.2 229.9 301.4 232.6C302.7 235.3 303.3 240.1 302.7 241.4C302 242.6 299.7 241.6 297.7 240.1C295.6 238.7 292.9 235.1 290.2 232.6C287.4 230.1 283.5 227.4 281.4 225.1C279.3 222.8 277.2 220.1 277.6 218.9Z"/><path id="s113" d="M299.4 240.6C300 239.3 302.1 241 303.9 242.1C305.7 243.3 307.5 246 310.2 247.6C312.9 249.3 316.9 250.9 320.2 252.2C323.5 253.4 326.9 255.5 330.2 255.2C333.5 254.8 336.9 251.3 340.2 250.2C343.6 249 347.3 248.1 350.2 248.1C353.2 248.1 355.7 248.6 357.8 250.2C359.8 251.7 360.5 255.8 362.8 257.7C365.1 259.5 369.6 260 371.5 261.4C373.4 262.9 374.2 264.3 374 266.4C373.8 268.5 372.1 271.6 370.3 273.9C368.4 276.2 365.7 278.8 362.8 280.2C359.8 281.6 356.1 282.4 352.7 282.2C349.4 282 346.5 280.7 342.7 278.9C339 277.1 334.4 273.7 330.2 271.4C326 269.1 321.7 267.3 317.7 265.2C313.7 263.1 309.3 261.4 306.4 258.9C303.5 256.4 301.3 253.2 300.2 250.2C299 247.1 298.8 242 299.4 240.6Z"/><path id="s114" d="M307.7 253.9C308.5 252.9 312.3 252.4 315.2 253.2C318.1 253.9 321.9 256.8 325.2 258.2C328.5 259.5 332.5 261.7 335.2 261.4C337.9 261.1 339 257.8 341.5 256.4C344 255 347.5 253.2 350.2 253.2C353 253.2 355.7 254.8 357.8 256.4C359.8 258 360.9 261 362.8 262.7C364.6 264.3 368.6 264.5 369 266.4C369.4 268.3 367.6 271.8 365.3 273.9C363 276 358.6 278.5 355.2 278.9C351.9 279.4 349 278.1 345.2 276.4C341.5 274.8 336.9 271 332.7 268.9C328.5 266.8 324 265.6 320.2 263.9C316.4 262.3 312.3 260.6 310.2 258.9C308.1 257.2 306.8 254.9 307.7 253.9Z"/><ellipse id="s115" cx="315.9" cy="258.2" rx="5.5" ry="2.3" transform="rotate(15 315.9 258.2)"/><path id="s116" d="M336.5 266.4C337.1 264.5 340.2 261.8 342.7 260.2C345.2 258.5 349 256.4 351.5 256.4C354 256.4 355.9 258.3 357.8 260.2C359.6 262 361.9 265.2 362.8 267.7C363.6 270.2 364.2 273.4 362.8 275.2C361.3 276.9 356.9 278.2 354 278.2C351.1 278.2 347.7 276.3 345.2 275.2C342.7 274.1 340.4 272.9 339 271.4C337.5 270 335.8 268.3 336.5 266.4Z"/><path id="s117" d="M348.2 267.7C349 266.2 351.2 263.9 352.7 263.9C354.2 263.9 355.8 266.2 357.3 267.7C358.7 269.1 361.4 271.2 361.5 272.7C361.6 274.1 359.4 275.8 357.8 276.4C356.1 277.1 353.1 277.1 351.5 276.4C349.9 275.8 348.8 274.1 348.2 272.7C347.7 271.2 347.5 269.1 348.2 267.7Z"/><path id="s118" d="M370.3 235.1C371.1 233.5 376.5 235.5 380.3 236.4C384 237.2 390.3 238.3 392.8 240.1C395.3 242 396.6 246 395.3 247.6C394.1 249.3 388.6 250.4 385.3 250.2C382 249.9 377.8 248.9 375.3 246.4C372.8 243.9 369.4 236.8 370.3 235.1Z"/><path id="s119" d="M375.3 203.8C375.9 200.7 377.2 199.7 379 198.8C380.9 198 384.7 198 386.5 198.8C388.4 199.7 389.5 201.1 390.3 203.8C391.1 206.5 391.1 211.1 391.6 215.1C392 219.1 391.8 224.3 392.8 227.6C393.8 231 398.2 233.7 397.8 235.1C397.4 236.6 393.2 236.4 390.3 236.4C387.4 236.4 383.1 235.8 380.3 235.1C377.4 234.5 374.6 234.3 373.3 232.6C371.9 231 371.9 227.6 372.3 225.1C372.6 222.6 374.8 221.1 375.3 217.6C375.8 214.1 374.7 207 375.3 203.8Z"/><path id="s120" d="M410.3 225.1C411.6 222.6 412 221 415.3 220.1C418.7 219.2 421.2 219.8 430.4 219.6C439.5 219.4 463.8 218.1 470.4 218.9C477 219.6 471 221.6 469.9 223.9C468.9 226.2 465.5 229.3 464.2 232.6C462.8 236 463.5 241.3 461.7 243.9C459.8 246.5 456.9 247.1 452.9 248.1C448.9 249.2 440.6 248.1 437.9 250.2C435.2 252.2 437.5 257.7 436.6 260.2C435.8 262.6 434.1 264.7 432.9 264.7C431.6 264.7 430 262.3 429.1 260.2C428.2 258.1 429.7 253.8 427.4 252.2C425.1 250.5 418.6 251.3 415.3 250.2C412.1 249 409.1 247.6 407.8 245.1C406.6 242.6 407.4 238.5 407.8 235.1C408.2 231.8 409.1 227.6 410.3 225.1Z"/><path id="s121" d="M390.3 233.9C391.8 233.7 397.2 235.8 400.3 236.4C403.4 237 407.6 236.5 409.1 237.6C410.5 238.8 410.5 242.6 409.1 243.1C407.6 243.6 403.2 241.6 400.3 240.6C397.4 239.7 393.2 238.8 391.6 237.6C389.9 236.5 388.8 234.1 390.3 233.9Z"/><path id="s122" d="M411.6 227.6C412.7 224.2 413.5 223.2 416.6 222.1C419.7 221.1 421.6 221.6 430.4 221.4C439.1 221.1 463.1 219.8 469.2 220.6C475.2 221.4 469 224.8 466.7 226.4C464.4 228 458.9 228.7 455.4 230.1C451.9 231.6 448.3 232.6 445.4 235.1C442.5 237.6 441.2 242.6 437.9 245.1C434.5 247.6 429.1 249.6 425.4 250.2C421.6 250.7 417.9 249.4 415.3 248.1C412.8 246.9 410.5 246.1 409.8 242.6C409.2 239.2 410.5 231 411.6 227.6Z"/><path id="s123" d="M412.8 230.1C414 227.4 414.9 225.1 417.8 223.9C420.8 222.6 426.6 222.4 430.4 222.6C434.1 222.8 436.2 225.2 440.4 225.1C444.5 225 451 222.5 455.4 222.1C459.8 221.7 465.4 221.8 466.7 222.6C467.9 223.4 465.6 225.9 462.9 227.1C460.2 228.3 454.1 228.7 450.4 229.6C446.6 230.5 443.1 230 440.4 232.6C437.7 235.2 436.6 242.4 434.1 245.1C431.6 247.9 428.5 248.7 425.4 248.9C422.2 249.1 417.8 247.9 415.3 246.4C412.9 244.9 411.2 242.8 410.8 240.1C410.4 237.4 411.7 232.8 412.8 230.1Z"/><path id="s124" d="M416.6 225.1C418.2 223.7 421.2 223.4 422.8 223.9C424.5 224.3 425.4 225.9 426.6 227.6C427.9 229.3 429.5 231.2 430.4 233.9C431.2 236.6 432.2 241.6 431.6 243.9C431 246.2 428.9 247.2 426.6 247.6C424.3 248.1 420.2 247.4 417.8 246.4C415.5 245.4 413.1 243.7 412.3 241.4C411.6 239.1 412.6 235.3 413.3 232.6C414 229.9 415 226.6 416.6 225.1Z"/><path id="s125" d="M387.8 272.7C390.1 271.2 394.1 269.3 397.8 268.9C401.6 268.5 407.8 268.3 410.3 270.2C412.8 272.1 412.6 276.4 412.8 280.2C413 284 412.8 289.8 411.6 292.7C410.3 295.6 408.2 297 405.3 297.7C402.4 298.5 397 298.3 394.1 297.2C391.1 296.2 389.7 293.5 387.8 291.5C385.9 289.5 383.4 287.5 382.8 285.2C382.2 282.9 383.2 279.8 384 277.7C384.9 275.6 385.5 274.1 387.8 272.7Z"/><path id="s126" d="M390.3 280.2C391.8 278.5 395.1 277.7 397.8 277.7C400.5 277.7 404.9 278.1 406.6 280.2C408.2 282.3 408.5 287.9 407.8 290.2C407.2 292.5 405.1 293.5 402.8 294C400.5 294.5 396.4 294.3 394.1 293.2C391.8 292.2 389.7 289.9 389 287.7C388.4 285.5 388.8 281.9 390.3 280.2Z"/><path id="s127" d="M380.3 284C380.3 282.7 386.5 279.6 387.8 280.2C389 280.8 389 287.1 387.8 287.7C386.5 288.3 380.3 285.2 380.3 284Z"/><ellipse id="s128" cx="401.1" cy="155" rx="5" ry="5"/><ellipse id="s129" cx="420.3" cy="195.8" rx="7.5" ry="5"/><path id="s130" d="M503 191.3C504.3 187.1 508.4 186.1 510 187.6C511.6 189 512.4 195.9 512.5 200.1C512.6 204.2 511.6 209.5 510.5 212.6C509.5 215.7 507.7 218.9 506.3 218.9C504.8 218.9 502.6 217.2 502 212.6C501.5 208 501.7 195.5 503 191.3Z"/><path id="s131" d="M510 237.6C511.7 232.8 514.2 235.5 520 235.1C525.9 234.7 539.4 234.1 545.1 235.1C550.7 236.2 550.9 239.5 553.8 241.4C556.8 243.3 560.7 244.1 562.6 246.4C564.5 248.7 565.1 252.2 565.1 255.2C565.1 258.1 565.9 261.8 562.6 263.9C559.3 266 552.2 267.1 545.1 267.7C538 268.3 525.9 268.3 520 267.7C514.2 267.1 511.7 268.9 510 263.9C508.4 258.9 508.4 242.4 510 237.6Z"/><path id="s132" d="M513.8 248.9C516.7 246.4 526.1 247.9 530.1 246.4C534 244.9 535.1 241 537.6 240.1C540.1 239.3 543.2 240.3 545.1 241.4C547 242.4 546.3 245.4 548.8 246.4C551.3 247.4 557.8 246.2 560.1 247.6C562.4 249.1 562.5 252.7 562.6 255.2C562.7 257.7 563.5 261 560.6 262.7C557.7 264.3 551.8 264.7 545.1 265.2C538.3 265.7 525.5 266.3 520 265.7C514.6 265 513.6 264.2 512.5 261.4C511.5 258.6 510.9 251.4 513.8 248.9Z"/><path id="s133" d="M513.8 253.9C514.6 252.4 516.1 251 518.8 250.2C521.5 249.3 526.5 249.3 530.1 248.9C533.6 248.5 535.7 247.8 540.1 247.6C544.4 247.5 552.9 247.1 556.3 248.1C559.8 249.2 560.2 251.9 560.6 253.9C561 255.9 560.6 258.8 558.8 260.2C557.1 261.5 553.6 261.7 550.1 262.2C546.5 262.7 541.7 262.9 537.6 263.2C533.4 263.5 528.4 264 525 263.9C521.7 263.8 519.4 263.5 517.5 262.7C515.7 261.8 514.4 260.4 513.8 258.9C513.2 257.5 512.9 255.4 513.8 253.9Z"/><path id="s134" d="M516.3 255.2C517 253.7 519 252.2 522.5 251.4C526.1 250.7 532.1 250.9 537.6 250.7C543 250.4 551.8 249.4 555.1 250.2C558.3 250.9 557.3 253.6 557.1 255.2C556.9 256.7 556.7 258.7 553.8 259.7C551 260.6 544.9 260.5 540.1 260.9C535.3 261.3 528.7 262 525 261.9C521.4 261.8 519.5 261.3 518 260.2C516.6 259 515.5 256.6 516.3 255.2Z"/><ellipse id="s135" cx="526.3" cy="257.7" rx="11.3" ry="4.5"/><ellipse id="s136" cx="520" cy="258.2" rx="3" ry="1.8"/><ellipse id="s137" cx="531.3" cy="258.7" rx="2" ry="1.3"/><ellipse id="s138" cx="578.9" cy="268.9" rx="8.8" ry="2"/><path id="s139" d="M617.7 180C617.1 177.1 619.8 170.7 621.4 167.5C623.1 164.4 625.4 162.1 627.7 161.3C630 160.4 633.1 160.6 635.2 162.5C637.3 164.4 638.5 169.4 640.2 172.5C641.9 175.7 646.1 179.4 645.2 181.3C644.4 183.2 638.5 183.2 635.2 183.8C631.9 184.4 628.1 185.7 625.2 185.1C622.3 184.4 618.3 183 617.7 180Z"/><path id="s140" d="M610.7 203.8C611.7 199.7 612.8 193.2 615.2 190.1C617.6 186.9 621.9 186.3 625.2 185.1C628.5 183.8 631.5 183.2 635.2 182.5C639 181.9 644 182.5 647.7 181.3C651.5 180 654 175.9 657.7 175C661.5 174.2 666.5 174.6 670.3 176.3C674 178 677.4 181.5 680.3 185.1C683.2 188.6 685.3 193.7 687.8 197.6C690.3 201.4 692.8 206.3 695.3 208.1C697.8 209.8 699.5 208.5 702.8 208.1C706.2 207.7 709.9 205.4 715.3 205.6C720.8 205.8 730.4 207.9 735.4 209.1C740.4 210.3 741.2 211.7 745.4 212.6C749.5 213.5 757.1 216.7 760.4 214.6C763.7 212.5 764.2 204.2 765.4 200.1C766.7 196 765.8 192.1 767.9 190.1C770 188 774.2 186.7 777.9 187.6C781.7 188.4 786.8 193 790.4 195.1C794.1 197.2 798.4 195.1 800 200.1C801.5 205.1 802.4 220.5 800 225.1C797.5 229.7 790.4 227.6 785.4 227.6C780.5 227.6 774.6 224.7 770.4 225.1C766.2 225.5 764.6 228.5 760.4 230.1C756.2 231.8 749.5 234.1 745.4 235.1C741.2 236.2 739.5 236.4 735.4 236.4C731.2 236.4 724.9 235.8 720.3 235.1C715.7 234.5 712 233.2 707.8 232.6C703.6 232 699.9 231.8 695.3 231.4C690.7 231 685.3 229.9 680.3 230.1C675.3 230.3 671.1 232 665.3 232.6C659.4 233.2 651.1 233.9 645.2 233.9C639.4 233.9 635.2 232.6 630.2 232.6C625.2 232.6 618.6 234.9 615.2 233.9C611.8 232.8 610.7 229.5 609.7 226.4C608.6 223.2 608.8 218.9 608.9 215.1C609.1 211.3 609.6 208 610.7 203.8Z"/><ellipse id="s141" cx="630.2" cy="167" rx="2.5" ry="2.5"/><path id="s142" d="M627.7 195.1C628.1 193.4 631.9 191.7 635.2 190.1C638.5 188.4 644 186.8 647.7 185.1C651.5 183.3 654 180.2 657.7 179.5C661.5 178.9 666.7 179.3 670.3 181.3C673.8 183.3 676.5 187.3 679 191.3C681.5 195.3 683 201.1 685.3 205.1C687.6 209 690.5 212.6 692.8 215.1C695.1 217.6 698.2 218 699.1 220.1C699.9 222.2 702.6 226.4 697.8 227.6C693 228.9 677.4 227 670.3 227.6C663.2 228.2 660.2 231.2 655.2 231.4C650.2 231.6 644.4 229.9 640.2 228.9C636 227.8 632.7 225.3 630.2 225.1C627.7 224.9 627.7 226.6 625.2 227.6C622.7 228.7 618.1 231.6 615.2 231.4C612.3 231.2 608.9 228.5 607.7 226.4C606.4 224.3 606.4 220.9 607.7 218.9C608.9 216.8 611.8 214.4 615.2 213.8C618.5 213.3 624.4 215 627.7 215.6C631 216.2 634.6 218.9 635.2 217.6C635.8 216.3 631.9 210.5 631.5 207.6C631 204.7 633.3 202.2 632.7 200.1C632.1 198 627.3 196.7 627.7 195.1Z"/><path id="s143" d="M635.2 192.6C636.3 191.5 642.5 191.3 645.2 190.1C647.9 188.8 649 186.3 651.5 185.1C654 183.8 657.3 182.5 660.2 182.5C663.2 182.5 666.5 183.2 669 185.1C671.5 186.9 673.2 190.1 675.3 193.8C677.4 197.6 679.7 203.8 681.5 207.6C683.4 211.3 684.2 214.5 686.5 216.3C688.8 218.2 693.8 217.4 695.3 218.9C696.8 220.3 697 223.9 695.3 225.1C693.6 226.4 688.6 226.4 685.3 226.4C681.9 226.4 678.6 225.5 675.3 225.1C671.9 224.7 668.2 223.4 665.3 223.9C662.3 224.3 660.7 226.9 657.7 227.6C654.8 228.3 650.9 228.7 647.7 228.1C644.6 227.5 640.8 225 639 223.9C637.1 222.7 634.6 222.2 636.5 221.4C638.3 220.5 645.9 219.5 650.2 218.9C654.6 218.2 660.5 219.1 662.8 217.6C665 216.1 664.8 212.4 664 210.1C663.2 207.8 660.5 205.7 657.7 203.8C655 202 650.9 200.1 647.7 198.8C644.6 197.6 641.1 197.4 639 196.3C636.9 195.3 634.2 193.6 635.2 192.6Z"/><path id="s144" d="M649 191.3C649.2 189.2 652.5 187.1 655.2 186.3C658 185.5 662.3 185.1 665.3 186.3C668.2 187.6 670.5 190.3 672.8 193.8C675.1 197.4 677.1 203.8 679 207.6C680.9 211.3 681.7 214.3 684 216.3C686.3 218.4 692.2 218.9 692.8 220.1C693.4 221.4 690.7 223.4 687.8 223.9C684.9 224.3 678.8 223.2 675.3 222.6C671.7 222 667.8 222 666.5 220.1C665.3 218.2 668.4 214.1 667.8 211.3C667.1 208.6 665 205.9 662.8 203.8C660.5 201.7 656.3 200.9 654 198.8C651.7 196.7 648.8 193.4 649 191.3Z"/><path id="s145" d="M642.7 222.6C643.6 221.8 650.7 220.9 652.7 221.4C654.8 221.8 656.1 224.3 655.2 225.1C654.4 225.9 649.8 226.8 647.7 226.4C645.6 225.9 641.9 223.4 642.7 222.6Z"/><path id="s146" d="M653.2 192.6C653.2 190.7 655.5 188.2 657.7 187.6C660 186.9 664.2 187.3 666.5 188.8C668.8 190.3 669.6 193 671.5 196.3C673.4 199.7 676.1 205.3 677.8 208.8C679.4 212.4 681.9 215.5 681.5 217.6C681.1 219.7 677.4 221.4 675.3 221.4C673.2 221.4 670.3 219.7 669 217.6C667.8 215.5 668.4 211.6 667.8 208.8C667.1 206.1 666.9 203 665.3 201.3C663.6 199.7 659.7 200.3 657.7 198.8C655.7 197.4 653.2 194.4 653.2 192.6Z"/><path id="s147" d="M655.2 193.1C655.2 191.6 657.1 190 659 189.6C660.9 189.1 664.7 189.6 666.5 190.6C668.3 191.5 669.8 193.7 669.8 195.1C669.8 196.4 668.3 198.3 666.5 198.8C664.7 199.3 660.9 199 659 198.1C657.1 197.1 655.2 194.5 655.2 193.1Z"/><ellipse id="s148" cx="616.9" cy="222.6" rx="7" ry="6"/><path id="s149" d="M720.3 212.6C721.6 209.9 725.3 207 727.8 206.3C730.4 205.7 732.4 207.8 735.4 208.8C738.3 209.9 741.2 211.1 745.4 212.6C749.5 214.1 756.9 215.5 760.4 217.6C763.9 219.7 766.2 222.6 766.7 225.1C767.1 227.6 765.2 231.6 762.9 232.6C760.6 233.7 756.6 232.2 752.9 231.4C749.1 230.5 744.5 228.5 740.4 227.6C736.2 226.8 731.2 227.2 727.8 226.4C724.5 225.5 721.6 224.9 720.3 222.6C719.1 220.3 719.1 215.3 720.3 212.6Z"/><path id="s150" d="M732.9 217.1C733.7 216 736.2 214.6 739.1 214.6C742 214.6 746.8 216 750.4 217.1C753.9 218.2 758.2 219.8 760.4 221.4C762.6 222.9 763.8 224.8 763.4 226.4C763 227.9 760.1 230.4 757.9 230.6C755.7 230.8 753.1 228.7 750.4 227.6C747.7 226.5 744.3 224.9 741.6 223.9C738.9 222.8 735.6 222.5 734.1 221.4C732.6 220.2 732 218.2 732.9 217.1Z"/><path id="s151" d="M741.6 218.9C741.8 218.1 747.7 219.3 750.4 220.1C753.1 220.9 756.9 222.7 757.9 223.9C758.9 225 758.1 227 756.6 227.1C755.2 227.2 751.6 226 749.1 224.6C746.6 223.2 741.4 219.6 741.6 218.9Z"/><path id="s152" d="M769.9 200.1C770.3 196.4 772.2 194.1 774.2 193.1C776.1 192 779.6 192.2 781.7 193.8C783.8 195.4 785.2 199 786.7 202.6C788.1 206.1 790.4 211.8 790.4 215.1C790.4 218.4 788.8 221.4 786.7 222.6C784.6 223.9 780.4 223.9 777.9 222.6C775.4 221.4 773 218.9 771.7 215.1C770.3 211.3 769.5 203.7 769.9 200.1Z"/><path id="s153" d="M772.9 203.8C773.3 201.4 775.4 198.7 776.7 198.1C777.9 197.4 779.6 198.1 780.4 200.1C781.3 202.1 781.9 207.5 781.7 210.1C781.5 212.7 780.4 215.2 779.2 215.6C777.9 216 775.2 214.6 774.2 212.6C773.1 210.6 772.5 206.3 772.9 203.8Z"/><path id="s154" d="M638.2 280.2C638.6 277.3 640.7 275.8 642.7 275.2C644.7 274.6 647.7 275.4 650.2 276.4C652.7 277.5 655.2 279.4 657.7 281.4C660.2 283.5 663.9 286.5 665.3 289C666.6 291.5 667 294.7 665.8 296.5C664.5 298.3 660.7 299.5 657.7 299.7C654.7 299.9 650.7 298.9 647.7 297.7C644.8 296.6 641.8 295.6 640.2 292.7C638.6 289.8 637.8 283.1 638.2 280.2Z"/><path id="s155" d="M640.7 281.4C641.2 279.4 643.4 278.5 645.2 278.2C647 277.9 649.4 278.5 651.5 279.7C653.6 280.9 655.9 283.2 657.7 285.2C659.6 287.2 662 289.6 662.8 291.5C663.5 293.3 663.5 295.4 662.3 296.5C661 297.5 657.7 297.9 655.2 297.7C652.8 297.5 649.9 296.5 647.7 295.2C645.6 294 643.4 292.5 642.2 290.2C641.1 287.9 640.2 283.5 640.7 281.4Z"/><ellipse id="s156" cx="647.7" cy="289" rx="5.5" ry="3" transform="rotate(30 647.7 289)"/><ellipse id="s157" cx="659.5" cy="292.7" rx="2" ry="2"/><path id="s158" d="M697.8 292.7C698.2 290.6 702.8 287.5 705.3 285.2C707.8 282.9 710.5 279.6 712.8 278.9C715.1 278.3 717.8 279.2 719.1 281.4C720.3 283.7 721 290 720.3 292.7C719.7 295.4 718.3 296.9 715.3 297.7C712.4 298.6 705.7 298.6 702.8 297.7C699.9 296.9 697.4 294.8 697.8 292.7Z"/><path id="s159" d="M701.6 290.2C702 288.7 705.5 287.3 707.8 286.5C710.1 285.6 713.6 284.4 715.3 285.2C717.1 286 718.3 289.7 718.3 291.5C718.3 293.2 717.5 295.1 715.3 295.7C713.2 296.3 707.6 296.1 705.3 295.2C703 294.3 701.1 291.7 701.6 290.2Z"/><ellipse id="s160" cx="711.6" cy="292" rx="4.5" ry="2.5"/><path id="s161" d="M685.3 292.2C687.2 291.3 695.7 289.5 697.8 290.2C699.9 290.9 699.7 295.6 697.8 296.5C695.9 297.4 688.6 296.4 686.5 295.7C684.5 295 683.4 293.1 685.3 292.2Z"/><path id="s162" d="M771.7 297.7C772.1 295.4 776.5 294.4 777.9 295.2C779.4 296.1 780.2 300.2 780.4 302.7C780.6 305.2 780 309.2 779.2 310.2C778.3 311.3 776.7 311.1 775.4 309C774.2 306.9 771.2 300 771.7 297.7Z"/><ellipse id="s163" cx="744.6" cy="263.2" rx="2.5" ry="6" transform="rotate(-30 744.6 263.2)"/><path id="s164" d="M739.1 235.1C740.2 231.8 746.2 231.8 747.9 235.1C749.5 238.5 750.2 251.8 749.1 255.2C748.1 258.5 743.3 258.5 741.6 255.2C740 251.8 738.1 238.5 739.1 235.1Z"/><path id="s165" d="M780 190.1C782.1 186.3 786.3 201.5 792.5 203.8C798.8 206.1 811.9 201.7 817.6 203.8C823.2 205.9 822.6 213.6 826.3 216.3C830.1 219.1 837.6 218.4 840.1 220.1C842.6 221.8 842 224.8 841.3 226.4C840.7 228 841.1 229 836.3 229.6C831.5 230.2 818.2 230.9 812.5 230.1C806.9 229.4 806.3 225.9 802.5 225.1C798.8 224.3 793.8 224.9 790 225.1C786.3 225.3 781.7 232.2 780 226.4C778.3 220.5 777.9 193.8 780 190.1Z"/><path id="s166" d="M790 212.6C791.3 210.9 796.3 209.9 800 210.1C803.8 210.3 808 212.4 812.5 213.8C817.1 215.3 824 217.2 827.6 218.9C831.1 220.5 833.4 222.4 833.8 223.9C834.2 225.3 832.8 227 830.1 227.6C827.4 228.2 821.7 228.5 817.6 227.6C813.4 226.8 809.2 223.9 805 222.6C800.9 221.4 795 221.8 792.5 220.1C790 218.4 788.8 214.3 790 212.6Z"/><ellipse id="s167" cx="815.3" cy="224.4" rx="1.3" ry="2.5"/><path id="s168" d="M857.6 187.6C858 185.3 858 181.4 862.6 180C867.2 178.7 880.4 178.5 885.2 179.5C890 180.6 890.8 183.9 891.4 186.3C892 188.7 890 191.7 888.9 193.8C887.9 195.9 888.3 198.2 885.2 198.8C882 199.4 874.3 198.4 870.1 197.6C866 196.7 862.2 195.5 860.1 193.8C858 192.1 857.2 189.9 857.6 187.6Z"/><path id="s169" d="M864.6 187.6C865.3 186.4 866.5 185.1 868.9 185.1C871.3 185 876.4 185.8 878.9 187.1C881.4 188.3 883.7 191.1 883.9 192.6C884.1 194 882.4 195.2 880.2 195.6C877.9 195.9 872.6 195.2 870.1 194.6C867.6 194 866 193.2 865.1 192.1C864.2 190.9 864 188.7 864.6 187.6Z"/><path id="s170" d="M885.2 197.6C886.6 196.9 890.2 202.9 895.2 203.8C900.2 204.7 910.8 202 915.2 203.1C919.6 204.1 919.8 207 921.5 210.1C923.1 213.1 925 218.4 925.2 221.4C925.4 224.3 924.8 226.8 922.7 227.6C920.6 228.5 916.5 227.2 912.7 226.4C908.9 225.5 903.9 224.1 900.2 222.6C896.4 221.1 892.5 220.1 890.2 217.6C887.9 215.1 887.2 210.9 886.4 207.6C885.6 204.2 883.7 198.2 885.2 197.6Z"/><path id="s171" d="M900.7 215.6C900.5 213.5 904.2 210.2 906.4 208.8C908.7 207.5 912.1 206.8 914 207.6C915.8 208.4 916.3 211.1 917.7 213.8C919.1 216.6 922.4 222.1 922.2 223.9C922 225.7 918.9 225 916.5 224.6C914 224.2 910.3 222.9 907.7 221.4C905.1 219.9 900.9 217.7 900.7 215.6Z"/><path id="s172" d="M904.7 215.6C904.1 213.8 907.4 211.4 908.9 210.6C910.5 209.8 912.6 209.4 914 210.6C915.3 211.8 916.4 215.7 917.2 217.6C918 219.5 919.7 221.5 919 222.1C918.2 222.7 915.1 222.4 912.7 221.4C910.3 220.3 905.3 217.4 904.7 215.6Z"/><ellipse id="s173" cx="914" cy="218.1" rx="3" ry="2.5"/><ellipse id="s174" cx="872.6" cy="220.4" rx="13.8" ry="5"/><path id="s175" d="M924 220.1C924.4 219.1 931.7 219.3 935.2 217.6C938.8 215.9 941.9 212.1 945.2 210.1C948.6 208.1 951.1 206.2 955.3 205.6C959.4 205 966.1 205.4 970.3 206.3C974.5 207.3 977.4 209.5 980.3 211.3C983.2 213.2 986.4 215.3 987.8 217.6C989.3 219.9 989.9 223 989.1 225.1C988.2 227.2 986.4 229.2 982.8 230.1C979.3 231 971.7 231.5 967.8 230.6C963.8 229.8 961.5 227.1 959 225.1C956.5 223.2 955.5 219.7 952.8 218.9C950 218 946.1 219.3 942.7 220.1C939.4 220.9 935.9 223.9 932.7 223.9C929.6 223.9 923.5 221.1 924 220.1Z"/><ellipse id="s176" cx="975.8" cy="222.6" rx="11.3" ry="5.5" transform="rotate(-5 975.8 222.6)"/><ellipse id="s177" cx="977.8" cy="222.6" rx="7.5" ry="3.3" transform="rotate(-5 977.8 222.6)"/><path id="s178" d="M970.3 187.6C970.6 185 971.3 181 974 179.5C976.8 178.1 983.8 177.5 986.6 178.8C989.3 180.1 989.9 184.6 990.3 187.6C990.7 190.5 990.7 194.4 989.1 196.3C987.4 198.2 983.1 199 980.3 198.8C977.5 198.6 974 196.9 972.3 195.1C970.6 193.2 970 190.1 970.3 187.6Z"/><path id="s179" d="M976.5 185.1C977.7 183.7 980.9 182.6 982.8 183C984.7 183.5 987.1 185.5 987.8 187.6C988.6 189.6 988.6 194.1 987.3 195.6C986.1 197 982.2 197 980.3 196.3C978.4 195.6 976.4 193.2 975.8 191.3C975.2 189.4 975.4 186.4 976.5 185.1Z"/><path id="s180" d="M990.3 195.1C991.8 194.7 996.6 199.2 1000.3 200.1C1004.1 200.9 1008.5 199.9 1012.8 200.1C1017.2 200.3 1024.1 199.9 1026.6 201.3C1029.1 202.8 1028.9 206.8 1027.9 208.8C1026.8 210.9 1023.3 213.6 1020.4 213.8C1017.4 214.1 1013.7 211.3 1010.3 210.1C1007 208.8 1003.5 207.6 1000.3 206.3C997.2 205.1 993.2 204.5 991.6 202.6C989.9 200.7 988.9 195.5 990.3 195.1Z"/><ellipse id="s181" cx="1017.9" cy="205.6" rx="5" ry="3.5"/><ellipse id="s182" cx="1036.6" cy="228.4" rx="8.3" ry="5"/><path id="s183" d="M947.8 257.7C949.9 255.6 954.8 255.2 960.3 255.2C965.7 255.2 973.6 256.8 980.3 257.7C987 258.5 994.9 260.6 1000.3 260.2C1005.8 259.7 1008.5 256.3 1012.8 255.2C1017.2 254 1023.7 251.9 1026.6 253.2C1029.5 254.4 1030 259.6 1030.4 262.7C1030.8 265.7 1031.6 269.3 1029.1 271.4C1026.6 273.5 1020.2 275 1015.4 275.2C1010.6 275.4 1004.9 272.7 1000.3 272.7C995.7 272.7 990.7 273.9 987.8 275.2C984.9 276.4 984.5 278.3 982.8 280.2C981.1 282.1 980.7 285 977.8 286.5C974.9 287.9 969 289 965.3 289C961.5 289 957.8 288.3 955.3 286.5C952.8 284.6 951.6 280.8 950.3 277.7C948.9 274.6 947.7 271 947.3 267.7C946.8 264.3 945.6 259.7 947.8 257.7Z"/><path id="s184" d="M950.8 266.4C951 264 952.8 263 955.3 262.2C957.7 261.3 961.9 261.3 965.3 261.4C968.6 261.6 973.1 261.7 975.3 263.2C977.5 264.6 978.3 267.6 978.3 270.2C978.3 272.8 977 276.8 975.3 278.9C973.5 281.1 970.5 282.6 967.8 283.2C965.1 283.8 961.3 283.8 959 282.7C956.7 281.6 955.4 279.2 954 276.4C952.6 273.7 950.5 268.8 950.8 266.4Z"/><path id="s185" d="M953.3 267.2C953.5 265.3 955.3 264.5 957.3 263.9C959.3 263.3 962.6 263.2 965.3 263.4C967.9 263.6 971.5 264 973.3 265.2C975 266.4 975.8 268.6 975.8 270.7C975.8 272.8 974.7 276 973.3 277.7C971.9 279.4 969.5 280.5 967.3 280.9C965 281.4 961.7 281.2 959.8 280.2C957.9 279.2 956.8 277.4 955.8 275.2C954.7 273 953 269.1 953.3 267.2Z"/><path id="s186" d="M954.5 270.2C954.9 268.6 956.5 266.1 957.8 265.7C959.1 265.3 961.4 266.1 962.3 267.7C963.1 269.3 963.3 273.4 962.8 275.2C962.2 276.9 960.3 278.2 959 278.2C957.8 278.2 956 276.5 955.3 275.2C954.5 273.9 954.1 271.8 954.5 270.2Z"/><path id="s187" d="M1006.6 268.2C1006.6 266.7 1012 263.8 1015.4 262.2C1018.7 260.5 1024.5 257.7 1026.6 258.2C1028.7 258.7 1028.1 263 1027.9 265.2C1027.7 267.4 1027.5 270.5 1025.4 271.4C1023.3 272.4 1018.5 271.5 1015.4 270.9C1012.2 270.4 1006.6 269.6 1006.6 268.2Z"/><path id="s188" d="M1012.8 267.7C1013.9 266.3 1022 261.2 1024.1 261.4C1026.2 261.6 1026.4 267.6 1025.4 268.9C1024.3 270.3 1019.9 269.9 1017.9 269.7C1015.8 269.5 1011.8 269.1 1012.8 267.7Z"/><ellipse id="s189" cx="1021.6" cy="266.4" rx="2" ry="1.3"/><path id="s190" d="M980.3 285.2C980.9 284.4 983.6 289 987.8 290.2C992 291.5 1001.2 291.5 1005.3 292.7C1009.5 294 1010.3 296.1 1012.8 297.7C1015.4 299.4 1019.9 300.6 1020.4 302.7C1020.8 304.8 1017.4 308.6 1015.4 310.2C1013.3 311.9 1010.3 313.6 1007.8 312.7C1005.3 311.9 1002.8 307.3 1000.3 305.2C997.8 303.1 995.5 301.9 992.8 300.2C990.1 298.6 986.1 297.7 984.1 295.2C982 292.7 979.7 286 980.3 285.2Z"/><ellipse id="s191" cx="893.2" cy="260.9" rx="12" ry="6"/><ellipse id="s192" cx="891.4" cy="260.7" rx="5.5" ry="1.3"/><ellipse id="s193" cx="917.2" cy="293.5" rx="13" ry="6.3"/><ellipse id="s194" cx="917.7" cy="294" rx="7.5" ry="2"/><ellipse id="s195" cx="1044.1" cy="309.7" rx="8.3" ry="5"/><ellipse id="s196" cx="1083.3" cy="240.1" rx="7" ry="15.5" transform="rotate(-33 1083.3 240.1)"/><ellipse id="s197" cx="1082.3" cy="237.6" rx="3" ry="10" transform="rotate(-33 1082.3 237.6)"/><path id="s198" d="M1124.1 227.6C1125.4 225.4 1129.3 224.4 1132.8 224.6C1136.4 224.8 1141.6 226.9 1145.3 228.9C1149.1 230.8 1153.5 233.2 1155.4 236.4C1157.2 239.5 1157.4 244.9 1156.6 247.6C1155.8 250.4 1153.1 252 1150.4 252.7C1147.6 253.3 1143.7 252.4 1140.3 251.4C1137 250.4 1132.9 248.7 1130.3 246.4C1127.7 244.1 1125.9 240.8 1124.8 237.6C1123.8 234.5 1122.7 229.8 1124.1 227.6Z"/><path id="s199" d="M1127.3 230.1C1128.6 228.5 1132.3 227.7 1135.3 228.1C1138.3 228.5 1142.4 230.8 1145.3 232.6C1148.3 234.4 1151.8 236.6 1152.9 238.9C1153.9 241.2 1153.3 244.9 1151.6 246.4C1149.9 247.9 1146 248.6 1142.8 248.1C1139.7 247.7 1135.3 245.6 1132.8 243.9C1130.3 242.1 1128.7 239.9 1127.8 237.6C1126.9 235.3 1126.1 231.7 1127.3 230.1Z"/><path id="s200" d="M1129.1 233.9C1129.6 232.5 1132 230.6 1134.1 230.6C1136.2 230.6 1138.9 232.7 1141.6 233.9C1144.3 235 1149.1 236.4 1150.4 237.6C1151.6 238.9 1150.6 240.6 1149.1 241.4C1147.6 242.1 1143.9 241.8 1141.6 242.1C1139.3 242.4 1137.1 243.7 1135.3 243.1C1133.5 242.6 1131.9 240.4 1130.8 238.9C1129.8 237.3 1128.5 235.3 1129.1 233.9Z"/><ellipse id="s201" cx="1134.8" cy="236.4" rx="2.3" ry="2.3"/><path id="s202" d="M1117.8 285.2C1118.6 282.7 1120.3 279.2 1122.8 277.7C1125.3 276.2 1130.5 275.2 1132.8 276.4C1135.1 277.7 1136.2 282.3 1136.6 285.2C1137 288.1 1137.2 292.1 1135.3 294C1133.5 295.8 1128.2 296.7 1125.3 296.5C1122.5 296.3 1119.6 294.6 1118.3 292.7C1117.1 290.8 1117.1 287.7 1117.8 285.2Z"/><ellipse id="s203" cx="1127.8" cy="286.5" rx="2" ry="1.5"/><ellipse id="s204" cx="1087.3" cy="281.4" rx="6.3" ry="9.5"/><ellipse id="s205" cx="1087.3" cy="281.4" rx="2" ry="5"/><path id="s206" d="M11.3 420.2C12.3 415.2 15.6 408.1 17.5 402.6C19.4 397.2 20 391.2 22.5 387.6C25 384.1 28 382.7 32.5 381.3C37.1 380 45.9 380.7 50.1 379.6C54.2 378.5 54.2 375.3 57.6 374.6C60.9 373.8 67.6 373.3 70.1 375.1C72.6 376.8 72.6 382.4 72.6 385.1C72.6 387.8 72.6 390.1 70.1 391.4C67.6 392.6 61.8 392.8 57.6 392.6C53.4 392.4 48.4 389.3 45.1 390.1C41.7 390.9 39.6 393.9 37.6 397.6C35.5 401.4 34.6 408.1 32.5 412.6C30.5 417.2 28 421.8 25 425.2C22.1 428.5 17.3 431.4 15 432.7C12.7 433.9 11.9 434.8 11.3 432.7C10.6 430.6 10.2 425.2 11.3 420.2Z"/><path id="s207" d="M48.8 386.4C49.7 384.5 53 380.3 56.3 378.8C59.7 377.4 66.3 376.1 68.9 377.6C71.4 379.1 72.8 385.3 71.4 387.6C69.9 389.9 63.4 390.9 60.1 391.4C56.8 391.8 53.2 390.9 51.3 390.1C49.4 389.3 48 388.2 48.8 386.4Z"/><path id="s208" d="M52.1 387.6C52.3 385.9 58.8 381.9 61.3 380.6C63.8 379.3 65.6 378.2 67.1 379.6C68.6 381 71.3 387 70.1 388.9C68.9 390.7 63.1 390.8 60.1 390.6C57.1 390.4 51.9 389.3 52.1 387.6Z"/><ellipse id="s209" cx="64.6" cy="387.6" rx="3" ry="2"/><path id="s210" d="M75.1 407.6C83.5 406.3 110.6 408 120.2 407.1C129.8 406.3 128.9 403.6 132.7 402.6C136.5 401.7 140.3 400.8 142.7 401.4C145.1 402 146.6 400.8 147.2 406.4C147.8 412 147.6 429.3 146.5 435.2C145.3 441 143.3 439.8 140.2 441.4C137.1 443.1 132.1 444.6 127.7 445.2C123.3 445.8 116.8 444.4 113.9 445.2C111 446 110.4 447.3 110.2 450.2C110 453.1 113.5 459.6 112.7 462.7C111.8 465.9 108.1 468.1 105.2 469C102.2 469.8 98.5 468.8 95.1 467.7C91.8 466.7 87.6 464.8 85.1 462.7C82.6 460.6 81.8 457.7 80.1 455.2C78.5 452.7 76.6 450.6 75.1 447.7C73.7 444.8 72.6 441.4 71.4 437.7C70.1 433.9 67.8 428.9 67.6 425.2C67.4 421.4 68.9 418.1 70.1 415.2C71.4 412.2 66.8 409 75.1 407.6Z"/><path id="s211" d="M117.7 376.3C118.5 374.7 126.4 373.8 130.2 375.1C134 376.3 136.5 381.3 140.2 383.9C144 386.4 149.4 387.8 152.7 390.1C156.1 392.4 160.7 395.7 160.2 397.6C159.8 399.5 153.6 401.4 150.2 401.4C146.9 401.4 143.5 398.7 140.2 397.6C136.9 396.6 132.7 397.2 130.2 395.1C127.7 393 127.3 388.2 125.2 385.1C123.1 382 116.8 378 117.7 376.3Z"/><ellipse id="s212" cx="126.9" cy="381.3" rx="2.5" ry="2"/><path id="s213" d="M75.1 412.6C76.6 410.4 79.3 409.4 82.6 408.9C86 408.4 92.4 407.8 95.1 409.6C97.9 411.5 98.5 416.3 98.9 420.2C99.3 424 98.3 428.9 97.6 432.7C97 436.4 96.8 440.6 95.1 442.7C93.5 444.8 90.6 445.2 87.6 445.2C84.7 445.2 79.9 444.8 77.6 442.7C75.3 440.6 74.5 436 73.9 432.7C73.2 429.3 73.7 426 73.9 422.7C74.1 419.3 73.7 414.9 75.1 412.6Z"/><path id="s214" d="M77.6 457.7C78.7 456.5 83.5 454.4 86.4 455.2C89.3 456 92 462.1 95.1 462.7C98.3 463.3 102.7 459 105.2 459C107.7 459 109.7 461.1 110.2 462.7C110.6 464.4 109.7 467.8 107.7 469C105.6 470.1 101 470.1 97.6 469.7C94.3 469.3 90.6 467.6 87.6 466.5C84.7 465.3 81.8 464.2 80.1 462.7C78.5 461.3 76.6 459 77.6 457.7Z"/><path id="s215" d="M77.1 433.2C79.9 431.6 91 430.8 93.9 432.2C96.8 433.6 95.9 439.6 94.6 441.4C93.4 443.3 89.3 443.2 86.4 443.2C83.5 443.2 78.7 443.1 77.1 441.4C75.6 439.8 74.3 434.7 77.1 433.2Z"/><ellipse id="s216" cx="132.7" cy="438.9" rx="7.5" ry="3.5"/><path id="s217" d="M11.3 447.7C13.6 443.4 18.6 447.2 25 447.2C31.5 447.2 43.4 447.4 50.1 447.7C56.8 448 61.3 447.3 65.1 449C68.9 450.6 70.9 455 72.6 457.7C74.3 460.4 75.9 462.9 75.1 465.2C74.3 467.5 71.8 469.8 67.6 471.5C63.4 473.2 55.1 473.8 50.1 475.2C45.1 476.7 41.7 479.8 37.6 480.2C33.4 480.7 29.4 479 25 477.7C20.7 476.5 13.6 477.7 11.3 472.7C9 467.7 9 452 11.3 447.7Z"/><path id="s218" d="M11.3 450.2C13.6 446.8 18.6 449.7 25 449.7C31.5 449.7 43.6 449.9 50.1 450.2C56.5 450.5 60.5 450 63.8 451.5C67.2 452.9 68.7 456.7 70.1 459C71.5 461.3 72.9 463.4 72.1 465.2C71.4 467 69.3 468.5 65.6 469.7C61.9 471 54.7 471.5 50.1 472.7C45.4 474 41.7 476.8 37.6 477.2C33.4 477.7 29.4 476.4 25 475.2C20.7 474.1 13.6 474.4 11.3 470.2C9 466.1 9 453.6 11.3 450.2Z"/><path id="s219" d="M37.6 455.2C38.8 452.5 41.3 452.1 45.1 451.5C48.8 450.8 56.7 450.2 60.1 451.5C63.5 452.7 64.6 455.8 65.6 459C66.6 462.1 67.7 467.9 66.3 470.2C65 472.5 61.1 472.2 57.6 472.7C54 473.2 48.4 474.1 45.1 473.2C41.7 472.4 38.8 470.7 37.6 467.7C36.3 464.7 36.3 457.9 37.6 455.2Z"/><path id="s220" d="M10 451.5C11.5 449.4 17.1 452.3 18.8 454C20.4 455.6 20.7 459.6 20 461.5C19.4 463.3 16.7 464.4 15 465.2C13.4 466.1 10.8 468.8 10 466.5C9.2 464.2 8.6 453.5 10 451.5Z"/><path id="s221" d="M10 454C10.9 452.7 14.5 454.2 15.5 455.2C16.6 456.3 17.2 459 16.3 460.2C15.4 461.5 11.1 463.8 10 462.7C9 461.7 9.1 455.2 10 454Z"/><path id="s222" d="M170.3 465.2C170.9 461.5 172.8 456.5 175.3 452.7C177.8 449 181.9 445 185.3 442.7C188.6 440.4 190.3 439.8 195.3 438.9C200.3 438.1 209.1 437.7 215.3 437.7C221.6 437.7 229.3 437.3 232.8 438.9C236.4 440.6 234.3 445 236.6 447.7C238.9 450.4 243.1 452.9 246.6 455.2C250.2 457.5 255.4 459.2 257.9 461.5C260.4 463.8 261.6 466.7 261.6 469C261.6 471.3 260.6 473.8 257.9 475.2C255.2 476.7 250.8 477.7 245.4 477.7C239.9 477.7 231.2 476 225.3 475.2C219.5 474.5 215.3 472.7 210.3 473.2C205.3 473.7 200.3 477.2 195.3 478.2C190.3 479.3 184.2 480.2 180.3 479.7C176.3 479.2 173.2 477.7 171.5 475.2C169.8 472.8 169.6 469 170.3 465.2Z"/><path id="s223" d="M172.8 472.7C187.8 471.5 245.6 470.7 260.4 471.5C275.2 472.3 263.9 475.9 261.6 477.7C259.3 479.5 252.7 481.8 246.6 482.3C240.6 482.7 231.4 480.9 225.3 480.2C219.3 479.6 215.3 477.7 210.3 478.2C205.3 478.7 200.5 482.3 195.3 483.3C190.1 484.3 183.2 485 179 484.3C174.8 483.5 171.3 480.9 170.3 479C169.2 477.1 157.7 474 172.8 472.7Z"/><path id="s224" d="M37.6 477.7C39.6 475.9 45.1 475.2 50.1 474C55.1 472.8 63.4 472.2 67.6 470.7C71.8 469.3 73.7 465.1 75.1 465.2C76.6 465.4 77.6 469.6 76.4 471.5C75.1 473.4 72 475 67.6 476.5C63.2 478 55.1 478.9 50.1 480.2C45.1 481.6 39.6 485.2 37.6 484.8C35.5 484.3 35.5 479.5 37.6 477.7Z"/><path id="s225" d="M173.3 466.5C173.9 463.3 175.6 458.7 177.8 455.2C180 451.7 183.4 448 186.5 445.7C189.7 443.4 191.7 442.4 196.5 441.4C201.3 440.5 209.6 440.2 215.3 440.2C221 440.2 227.7 440 230.8 441.4C234 442.9 231.7 446.3 234.1 449C236.5 451.6 241.7 454.9 245.4 457.2C249 459.5 253.6 460.8 255.9 462.7C258.2 464.7 259.1 467.2 259.1 469C259.1 470.7 258.2 472.2 255.9 473.2C253.6 474.3 250.5 475.3 245.4 475.2C240.3 475.2 229.5 474.4 225.3 472.7C221.2 471.1 222 468.1 220.3 465.2C218.7 462.3 217.4 456.5 215.3 455.2C213.2 454 209.5 455.2 207.8 457.7C206.1 460.2 207.4 467.2 205.3 470.2C203.2 473.2 199.5 474.6 195.3 475.7C191.1 476.9 183.8 477.5 180.3 477.2C176.7 477 175.2 475.8 174 474C172.8 472.2 172.6 469.6 173.3 466.5Z"/><ellipse id="s226" cx="225.3" cy="445.7" rx="9.5" ry="6.3"/><path id="s227" d="M221.6 445.2C221.4 443.9 225.1 442.5 226.6 442.7C228.1 442.9 230.1 445.2 230.3 446.4C230.6 447.7 229.3 450.4 227.8 450.2C226.4 450 221.8 446.4 221.6 445.2Z"/><ellipse id="s228" cx="246.6" cy="467.7" rx="13.8" ry="7" transform="rotate(10 246.6 467.7)"/><ellipse id="s229" cx="247.4" cy="468.2" rx="8.8" ry="4" transform="rotate(10 247.4 468.2)"/><ellipse id="s230" cx="184" cy="471.5" rx="13.8" ry="6.3"/><ellipse id="s231" cx="179" cy="472.7" rx="5.5" ry="2"/><ellipse id="s232" cx="281.7" cy="464" rx="4.5" ry="8"/><ellipse id="s233" cx="281.9" cy="464.5" rx="2.5" ry="5"/><path id="s234" d="M251.6 378.8C253.4 377.2 257.7 375.7 259.1 377.6C260.6 379.5 259.1 386.7 260.4 390.1C261.6 393.5 263.1 396.1 266.6 398.1C270.2 400.1 277.5 399.9 281.7 402.1C285.8 404.3 290.2 408.2 291.7 411.4C293.1 414.6 291.3 418.9 290.4 421.4C289.6 423.9 288.6 426.2 286.7 426.4C284.8 426.6 281.5 424.6 279.2 422.7C276.8 420.7 275.1 417.2 272.4 414.6C269.7 412.1 266.4 409.2 262.9 407.1C259.4 405.1 254.3 404.1 251.6 402.1C248.9 400.2 247.2 398 246.6 395.6C246.1 393.2 247.5 390.4 248.4 387.6C249.2 384.8 249.8 380.5 251.6 378.8Z"/><path id="s235" d="M290.4 407.6C292.4 406.4 302.5 407.8 305 408.9C307.4 409.9 307 412.6 305 413.9C303 415.2 295.4 417.4 292.9 416.4C290.5 415.4 288.4 408.9 290.4 407.6Z"/><path id="s236" d="M237.9 410.1C239.3 409 245 407.4 247.9 407.6C250.8 407.8 255.4 410.1 255.4 411.4C255.4 412.6 250.6 414.6 247.9 415.2C245.2 415.7 240.8 415.5 239.1 414.6C237.4 413.8 236.4 411.3 237.9 410.1Z"/><path id="s237" d="M305 402.6C306.3 400.8 309.2 402 312.5 403.9C315.8 405.8 321.1 410.8 325 413.9C329 417 334.6 420.4 336.3 422.7C338 425 336.9 425.6 335 427.7C333.2 429.8 328 435.2 325 435.2C322.1 435.2 320.9 431 317.5 427.7C314.2 424.3 307.1 419.3 305 415.2C302.9 411 303.7 404.5 305 402.6Z"/><ellipse id="s238" cx="363.1" cy="403.1" rx="5.5" ry="9.5"/><ellipse id="s239" cx="362.6" cy="403.1" rx="2" ry="4.5"/><path id="s240" d="M392.6 417.7C393.9 415.9 396.6 414.4 398.9 414.6C401.2 414.9 405 416.9 406.4 418.9C407.8 420.9 408 424.1 407.2 426.4C406.3 428.7 403.6 431.8 401.4 432.7C399.2 433.5 395.6 432.7 393.9 431.4C392.2 430.2 391.6 427.5 391.4 425.2C391.2 422.9 391.4 419.4 392.6 417.7Z"/><ellipse id="s241" cx="364.6" cy="452.2" rx="5.5" ry="4.5"/><ellipse id="s242" cx="364.3" cy="452.5" rx="3.3" ry="2.8"/><ellipse id="s243" cx="364.1" cy="452.5" rx="1.8" ry="1.5"/><ellipse id="s244" cx="352.6" cy="447.7" rx="7.5" ry="2.5"/><path id="s245" d="M412.7 450.2C415.6 449.4 425.6 454 430.2 451.5C434.8 449 436 439.6 440.2 435.2C444.4 430.8 450.6 427.3 455.2 425.2C459.8 423 464.4 422 467.7 422.2C471.1 422.4 473.2 423.8 475.3 426.4C477.3 429 476.9 435.6 480.3 437.7C483.6 439.8 492.2 437.7 495.3 438.9C498.4 440.2 498.4 441.2 499 445.2C499.7 449.2 500.1 459 499 462.7C498 466.5 496.3 466.5 492.8 467.7C489.2 469 480.3 468.2 477.8 470.2C475.3 472.3 481.5 478.4 477.8 480C474 481.6 459.4 481.8 455.2 480C451.1 478.2 456.1 471.2 452.7 469C449.4 466.7 440.2 467.5 435.2 466.5C430.2 465.4 426.4 464.4 422.7 462.7C418.9 461.1 414.3 458.5 412.7 456.5C411 454.4 409.7 451 412.7 450.2Z"/><path id="s246" d="M397.6 435.2C398.5 433.9 403.1 435.6 405.2 437.7C407.2 439.8 410.2 445.2 410.2 447.7C410.2 450.2 406.8 453.1 405.2 452.7C403.5 452.3 401.4 448.1 400.1 445.2C398.9 442.3 396.8 436.4 397.6 435.2Z"/><path id="s247" d="M457.7 432.7C458.1 430.2 464.8 426 467.7 425.2C470.7 424.3 473.6 425.2 475.3 427.7C476.9 430.2 478.4 437.3 477.8 440.2C477.1 443.1 473.2 442.7 471.5 445.2C469.8 447.7 468 451.9 467.7 455.2C467.5 458.5 468.2 463.1 470.2 465.2C472.3 467.3 479.4 467.1 480.3 467.7C481.1 468.4 479.4 469.2 475.3 469C471.1 468.8 457.5 469.6 455.2 466.5C452.9 463.3 459.8 454.6 461.5 450.2C463.2 445.8 465.9 443.1 465.2 440.2C464.6 437.3 457.3 435.2 457.7 432.7Z"/><path id="s248" d="M435.2 450.2C435.8 446.9 438.5 443.5 441.5 441.4C444.4 439.4 449.4 439.1 452.7 437.7C456.1 436.2 459 434.1 461.5 432.7C464 431.2 466.2 428.9 467.7 428.9C469.3 428.9 470.7 431 470.7 432.7C470.7 434.3 469.5 436.8 467.7 438.9C466 441 461.8 442.5 460.2 445.2C458.6 447.9 459.3 452.3 458.2 455.2C457.2 458.1 456.1 461.1 454 462.7C451.8 464.4 447.9 465.4 445.2 465.2C442.5 465 439.4 464 437.7 461.5C436 459 434.6 453.5 435.2 450.2Z"/><path id="s249" d="M437.7 451.5C438.3 448.7 440.7 445.1 443.2 443.2C445.7 441.3 450.3 439.9 452.7 440.2C455.1 440.5 457.2 442.7 457.7 445.2C458.2 447.7 456.6 452.6 455.7 455.2C454.9 457.8 454.5 459.5 452.7 460.7C451 462 447.4 462.9 445.2 462.7C443 462.6 441 461.6 439.7 459.7C438.5 457.8 437.1 454.2 437.7 451.5Z"/><path id="s250" d="M439 451.5C439 448.9 441.9 446.1 444 444.7C446 443.3 449.9 442.1 451.5 443.2C453 444.3 453.4 448.8 453.2 451.5C453 454.1 451.8 457.5 450.2 459C448.7 460.4 445.8 461.5 444 460.2C442.1 459 439 454 439 451.5Z"/><path id="s251" d="M472.3 447.7C473 444.7 475 443.4 477.8 442.2C480.6 441 486.2 440.2 489 440.7C491.9 441.2 493.7 442.4 494.8 445.2C495.9 448 496.3 454.6 495.8 457.7C495.2 460.8 494.1 462.7 491.5 464C488.9 465.2 483.3 465.9 480.3 465.2C477.2 464.6 474.6 463.1 473.3 460.2C471.9 457.3 471.5 450.7 472.3 447.7Z"/><path id="s252" d="M475.3 449C475.7 445.9 477.6 444.8 480.3 443.9C483 443.1 489.2 441.6 491.5 443.9C493.8 446.2 494.5 454.6 494 457.7C493.6 460.8 491.7 462 489 462.7C486.3 463.5 480.1 464.5 477.8 462.2C475.5 459.9 474.8 452 475.3 449Z"/><path id="s253" d="M515.3 440.2C517.8 437.3 528.8 437 531.6 439.7C534.4 442.4 534.8 453.5 532.3 456.5C529.8 459.4 519.4 459.9 516.6 457.2C513.7 454.5 512.8 443.1 515.3 440.2Z"/><ellipse id="s254" cx="520.3" cy="441.4" rx="3" ry="2.5"/><path id="s255" d="M514.1 357.6C514.9 356.5 518.9 355.6 522.8 355.6C526.8 355.5 534.1 355.5 537.8 357.1C541.6 358.6 543.5 362.3 545.4 365.1C547.2 367.9 549.1 372 549.1 373.8C549.1 375.7 547.2 377.2 545.4 376.3C543.5 375.5 540.4 371.1 537.8 368.8C535.3 366.5 533.7 363.7 530.3 362.6C527 361.4 520.5 362.9 517.8 362.1C515.1 361.2 513.2 358.6 514.1 357.6Z"/><ellipse id="s256" cx="519.8" cy="359.3" rx="4.5" ry="1.5"/><path id="s257" d="M592.9 366.3C594.6 364.2 598.4 364.1 602.9 365.1C607.5 366 616.6 370 620.5 372.1C624.3 374.2 625.4 375.6 626 377.6C626.6 379.6 626.4 382.5 624.2 383.9C622.1 385.2 617.3 385.6 613 385.6C608.6 385.6 601.3 385.2 597.9 383.9C594.6 382.5 593.8 380.5 592.9 377.6C592.1 374.7 591.3 368.4 592.9 366.3Z"/><ellipse id="s258" cx="604.2" cy="372.6" rx="6.3" ry="3.8"/><path id="s259" d="M755.7 332.5C756.3 330.2 759.1 327.4 761.5 326.3C763.9 325.1 767.7 324.7 770.2 325.5C772.7 326.4 773.8 330.1 776.5 331.3C779.2 332.4 784.6 331.1 786.5 332.5C788.4 334 788.4 338.3 787.8 340C787.1 341.8 786.5 342.5 782.8 343C779 343.5 769.4 343.5 765.2 343C761.1 342.5 759.3 341.8 757.7 340C756.1 338.3 755.1 334.8 755.7 332.5Z"/><ellipse id="s260" cx="774" cy="334.5" rx="6.3" ry="1.8"/><ellipse id="s261" cx="737.2" cy="415.9" rx="16" ry="6"/><ellipse id="s262" cx="740.2" cy="415.9" rx="9" ry="3"/><ellipse id="s263" cx="744" cy="415.9" rx="3.8" ry="1.3"/><ellipse id="s264" cx="162.2" cy="488.8" rx="4.5" ry="4.5"/><ellipse id="s265" cx="197" cy="496.8" rx="10" ry="5.5"/><ellipse id="s266" cx="196.5" cy="496.6" rx="5.5" ry="2"/><ellipse id="s267" cx="231.6" cy="561.4" rx="6.5" ry="6"/><ellipse id="s268" cx="231.6" cy="560.9" rx="2" ry="1.5"/><path id="s269" d="M455.2 467.5C457.9 465.2 469.9 465.4 472.8 467.5C475.6 469.6 473.1 476.9 472.3 480C471.4 483.2 469.5 485.1 467.7 486.3C465.9 487.6 463.4 488.4 461.5 487.6C459.6 486.7 457.5 484.6 456.5 481.3C455.4 478 452.5 469.8 455.2 467.5Z"/><path id="s270" d="M347.1 479.5C349.6 477.7 359.8 477.2 362.6 478.8C365.4 480.3 366.3 487 363.8 488.8C361.3 490.6 350.4 491.1 347.6 489.6C344.8 488 344.6 481.3 347.1 479.5Z"/><ellipse id="s271" cx="387.1" cy="476.3" rx="10" ry="6.5" transform="rotate(-30 387.1 476.3)"/><ellipse id="s272" cx="388.9" cy="475" rx="5" ry="2.5" transform="rotate(-35 388.9 475)"/><path id="s273" d="M361.3 512.6C363.3 511.3 368.3 510.6 370.1 512.1C371.9 513.6 372.5 518.6 372.1 521.4C371.7 524.2 369.8 527.7 367.6 528.9C365.4 530 360.4 529.6 358.8 528.1C357.2 526.7 357.7 522.7 358.1 520.1C358.5 517.5 359.3 513.9 361.3 512.6Z"/><ellipse id="s274" cx="351.3" cy="528.1" rx="6.3" ry="2"/><path id="s275" d="M401.4 530.1C404.3 525.9 409.9 520.5 412.7 517.6C415.4 514.7 413.1 513.6 417.7 512.6C422.3 511.6 436.1 509.7 440.2 511.3C444.3 513 443 519.3 442.2 522.6C441.4 525.9 438.5 529.3 435.2 531.4C431.9 533.5 426.4 533.9 422.7 535.1C418.9 536.4 415.6 536.8 412.7 538.9C409.7 541 407.7 544.9 405.2 547.6C402.6 550.4 400.6 552.7 397.6 555.2C394.7 557.7 389.7 560.2 387.6 562.7C385.5 565.2 387.6 569 385.1 570.2C382.6 571.3 376.1 570.7 372.6 569.7C369.1 568.6 365.5 565.7 363.8 563.9C362.2 562.1 361.1 560.8 362.6 558.9C364 557 368.4 553.7 372.6 552.7C376.8 551.6 383.9 554.3 387.6 552.7C391.4 551 392.8 546.4 395.1 542.6C397.4 538.9 398.5 534.3 401.4 530.1Z"/><path id="s276" d="M403.9 531.4C405.2 529.3 411.6 525.4 415.2 522.6C418.7 519.8 421.2 516.1 425.2 514.6C429.1 513.1 436.4 512.7 439 513.8C441.5 515 441.2 518.6 440.2 521.4C439.2 524.1 436 528 432.7 530.1C429.4 532.2 424.3 533 420.2 533.9C416 534.7 410.4 535.5 407.7 535.1C404.9 534.7 402.6 533.5 403.9 531.4Z"/><path id="s277" d="M412.7 527.6C412.5 525.9 416 522.1 418.9 520.1C421.8 518.1 427.1 516.2 430.2 515.6C433.3 515 436.7 515.2 437.7 516.3C438.7 517.5 437.7 520.6 436.4 522.6C435.2 524.6 432.9 526.8 430.2 528.1C427.5 529.5 423.1 530.7 420.2 530.6C417.3 530.5 412.9 529.4 412.7 527.6Z"/><ellipse id="s278" cx="422.7" cy="526.4" rx="4.5" ry="2" transform="rotate(-25 422.7 526.4)"/><path id="s279" d="M366.3 561.4C366.1 560.2 369.5 559.5 371.3 560.2C373.2 560.9 377.4 564.4 377.6 565.7C377.8 566.9 374.5 568.4 372.6 567.7C370.7 567 366.6 562.7 366.3 561.4Z"/><path id="s280" d="M470.2 531.4C471 529.3 472.8 527.1 475.3 526.4C477.8 525.7 483.3 526.1 485.3 527.1C487.3 528.2 487.7 530.7 487.3 532.6C486.9 534.6 484.8 537.2 482.8 538.9C480.8 540.6 477.3 542.6 475.3 542.6C473.3 542.6 471.6 540.8 470.7 538.9C469.9 537 469.5 533.5 470.2 531.4Z"/><path id="s281" d="M473.3 531.4C474.5 529.6 482.2 528.2 484 528.9C485.8 529.5 485.3 533.3 484 535.1C482.8 536.9 478.3 540.3 476.5 539.6C474.7 539 472 533.2 473.3 531.4Z"/><ellipse id="s282" cx="525.6" cy="73" rx="5" ry="4.5"/><ellipse id="s283" cx="563.2" cy="72" rx="10" ry="2.5"/><ellipse id="s284" cx="872" cy="69" rx="8" ry="2.5"/><path id="s285" d="M373 198.7C373.7 197.4 375.3 195.4 375.5 197.4C375.7 199.5 374.8 206.8 374.3 211.1C373.8 215.5 373.3 220.5 372.4 223.6C371.5 226.7 369.6 229 368.7 229.8C367.7 230.6 366.5 230.6 366.8 228.5C367.1 226.5 369.7 221.3 370.5 217.3C371.4 213.4 371.4 208 371.8 204.9C372.2 201.8 372.4 199.9 373 198.7Z"/><path id="s286" d="M8.6 487.7C10.3 483.5 15.3 488.1 18.6 489.1C22 490.2 27.4 492.5 28.7 494.1C29.9 495.7 27.3 497.3 25.9 498.7C24.6 500 22 500.8 20.5 502.3C19 503.8 17.7 506.1 16.8 507.8C15.9 509.4 16.4 511.2 15 512.3C13.6 513.5 9.7 518.7 8.6 514.6C7.6 510.5 7 492 8.6 487.7Z"/><path id="s287" d="M8.6 478.6C11.1 477.1 18.8 482 23.2 483.2C27.6 484.4 33.5 484.4 35 485.9C36.5 487.4 36.7 491.2 32.3 492.3C27.9 493.4 12.6 494.6 8.6 492.3C4.7 490 6.2 480.2 8.6 478.6Z"/><path id="s288" d="M1163 258.2C1163.5 256 1166.1 254.1 1168.3 252.9C1170.4 251.8 1173.1 251.3 1175.8 251.4C1178.6 251.5 1181.4 252.3 1185 253.7C1188.5 255.1 1193.5 258.1 1197.1 259.8C1200.6 261.4 1203.2 262.3 1206.2 263.5C1209.2 264.8 1212.3 266.1 1215.3 267.3C1218.3 268.6 1222.9 264.7 1224.4 271.1C1225.9 277.6 1227.4 300.5 1224.4 306C1221.4 311.6 1210.7 304.8 1206.2 304.5C1201.6 304.2 1200.1 304.5 1197.1 304.5C1194.1 304.5 1190.5 305.3 1188 304.5C1185.5 303.7 1184.7 301.7 1181.9 300C1179.1 298.2 1173.3 296.2 1171.3 293.9C1169.3 291.6 1169 288.3 1169.8 286.3C1170.5 284.3 1173.3 283 1175.8 281.7C1178.4 280.5 1184.4 279.7 1185 278.7C1185.5 277.7 1181.2 276.6 1178.9 275.7C1176.6 274.8 1173.6 274.9 1171.3 273.4C1169 271.9 1166.6 269.1 1165.2 266.6C1163.8 264 1162.4 260.5 1163 258.2Z"/><path id="s289" d="M1171.3 259C1172.1 257 1173.8 255.3 1175.8 254.7C1177.9 254.2 1179.9 254.7 1183.4 256C1187 257.2 1193.3 260.4 1197.1 262C1200.9 263.7 1203.2 264.6 1206.2 265.8C1209.2 267.1 1212.3 268.3 1215.3 269.6C1218.3 270.9 1222.9 270.6 1224.4 273.4C1225.9 276.2 1225.9 284.8 1224.4 286.3C1222.9 287.8 1219.8 284 1215.3 282.5C1210.7 281 1202.1 278.6 1197.1 277.2C1192 275.8 1188.5 275 1185 274.2C1181.4 273.3 1178.1 273.2 1175.8 271.9C1173.6 270.6 1172.1 268.7 1171.3 266.6C1170.5 264.4 1170.5 261 1171.3 259Z"/><path id="s290" d="M1173.6 263.5C1173.8 261.9 1175.5 259.8 1177.4 259.3C1179.3 258.8 1181.7 259.5 1185 260.5C1188.2 261.5 1193.5 263.8 1197.1 265.1C1200.6 266.3 1203.2 267 1206.2 268.1C1209.2 269.2 1212.3 270.3 1215.3 271.4C1218.3 272.6 1222.9 273.3 1224.4 274.9C1225.9 276.5 1225.9 280.5 1224.4 281C1222.9 281.5 1219.8 279.2 1215.3 278C1210.7 276.7 1202.1 274.5 1197.1 273.4C1192 272.3 1188.5 271.8 1185 271.1C1181.4 270.4 1177.7 270.6 1175.8 269.3C1174 268 1173.3 265.2 1173.6 263.5Z"/><path id="s291" d="M1180.4 264.3C1180.1 263.4 1182.7 262.5 1185 262.8C1187.2 263 1191.5 264.8 1194.1 265.8C1196.6 266.8 1200.1 268.2 1200.1 268.9C1200.1 269.5 1196.3 269.7 1194.1 269.6C1191.8 269.5 1188.7 269 1186.5 268.1C1184.2 267.2 1180.7 265.2 1180.4 264.3Z"/><path id="s292" d="M1175.1 290.8C1175.6 289.9 1178.5 288.2 1180.4 288.1C1182.3 288 1184.7 288.6 1186.5 290.1C1188.2 291.6 1190.5 295.4 1191 296.9C1191.5 298.4 1190.8 299.4 1189.5 299.2C1188.2 298.9 1185.5 296.3 1183.4 295.4C1181.4 294.5 1178.8 294.6 1177.4 293.9C1176 293.1 1174.6 291.8 1175.1 290.8Z"/></defs>
<g fill="#80ff00" stroke="#80ff00" stroke-linejoin="round"><use href="#s0" stroke-width="11"/><use href="#s1" stroke-width="23.4"/><use href="#s2" stroke-width="7"/><use href="#s3" stroke-width="11"/><use href="#s4" stroke-width="11"/><use href="#s5" stroke-width="7"/><use href="#s6" stroke-width="11"/><use href="#s7" stroke-width="11"/><use href="#s8" stroke-width="16"/><use href="#s9" stroke-width="16"/><use href="#s10" stroke-width="23.4"/><use href="#s11" stroke-width="16.7"/><use href="#s12" stroke-width="19"/><use href="#s13" stroke-width="7"/><use href="#s14" stroke-width="27.8"/><use href="#s15" stroke-width="19.3"/><use href="#s16" stroke-width="11"/><use href="#s17" stroke-width="11"/><use href="#s18" stroke-width="11"/><use href="#s19" stroke-width="16"/><use href="#s20" stroke-width="11.4"/><use href="#s21" stroke-width="14"/><use href="#s22" stroke-width="16.7"/><use href="#s23" stroke-width="19.3"/><use href="#s24" stroke-width="11"/><use href="#s25" stroke-width="16"/><use href="#s26" stroke-width="11.4"/><use href="#s27" stroke-width="19.3"/><use href="#s28" stroke-width="16.7"/><use href="#s29" stroke-width="14"/><use href="#s30" stroke-width="14"/><use href="#s31" stroke-width="16"/><use href="#s32" stroke-width="11.4"/><use href="#s33" stroke-width="14"/><use href="#s34" stroke-width="16.7"/><use href="#s35" stroke-width="11"/><use href="#s36" stroke-width="16"/><use href="#s37" stroke-width="11"/><use href="#s38" stroke-width="16"/><use href="#s39" stroke-width="15.2"/><use href="#s40" stroke-width="14"/><use href="#s41" stroke-width="16.7"/><use href="#s42" stroke-width="11"/><use href="#s43" stroke-width="16"/><use href="#s44" stroke-width="11.4"/><use href="#s45" stroke-width="14"/><use href="#s46" stroke-width="16"/><use href="#s47" stroke-width="11"/><use href="#s48" stroke-width="7"/><use href="#s49" stroke-width="11.4"/><use href="#s50" stroke-width="14"/><use href="#s51" stroke-width="11"/><use href="#s52" stroke-width="16"/><use href="#s53" stroke-width="11.4"/><use href="#s54" stroke-width="0"/><use href="#s55" stroke-width="0"/><use href="#s56" stroke-width="11"/><use href="#s57" stroke-width="16.1"/><use href="#s58" stroke-width="14"/><use href="#s59" stroke-width="11.4"/><use href="#s60" stroke-width="11.4"/><use href="#s61" stroke-width="14"/><use href="#s62" stroke-width="16"/><use href="#s63" stroke-width="7"/><use href="#s64" stroke-width="11.4"/><use href="#s65" stroke-width="14"/><use href="#s66" stroke-width="16.7"/><use href="#s67" stroke-width="16.7"/><use href="#s68" stroke-width="16.7"/><use href="#s69" stroke-width="16.7"/><use href="#s70" stroke-width="16"/><use href="#s71" stroke-width="11"/><use href="#s72" stroke-width="7"/><use href="#s73" stroke-width="11"/><use href="#s74" stroke-width="16"/><use href="#s75" stroke-width="7"/><use href="#s76" stroke-width="11"/><use href="#s77" stroke-width="7"/><use href="#s78" stroke-width="16.1"/><use href="#s79" stroke-width="14"/><use href="#s80" stroke-width="7"/><use href="#s81" stroke-width="7"/><use href="#s82" stroke-width="11"/><use href="#s83" stroke-width="16"/><use href="#s84" stroke-width="16"/><use href="#s85" stroke-width="11"/><use href="#s86" stroke-width="11"/><use href="#s87" stroke-width="11"/><use href="#s88" stroke-width="16"/><use href="#s89" stroke-width="16.1"/><use href="#s90" stroke-width="11"/><use href="#s91" stroke-width="16.7"/><use href="#s92" stroke-width="19.3"/><use href="#s93" stroke-width="11"/><use href="#s94" stroke-width="16"/><use href="#s95" stroke-width="11.4"/><use href="#s96" stroke-width="7"/><use href="#s97" stroke-width="11"/><use href="#s98" stroke-width="7"/><use href="#s99" stroke-width="11"/><use href="#s100" stroke-width="0"/><use href="#s101" stroke-width="7"/><use href="#s102" stroke-width="7"/><use href="#s103" stroke-width="11"/><use href="#s104" stroke-width="11"/><use href="#s105" stroke-width="0"/><use href="#s106" stroke-width="11"/><use href="#s107" stroke-width="16"/><use href="#s108" stroke-width="11.4"/><use href="#s109" stroke-width="7"/><use href="#s110" stroke-width="7"/><use href="#s111" stroke-width="11"/><use href="#s112" stroke-width="16"/><use href="#s113" stroke-width="15.2"/><use href="#s114" stroke-width="14"/><use href="#s115" stroke-width="16.7"/><use href="#s116" stroke-width="16.7"/><use href="#s117" stroke-width="19.3"/><use href="#s118" stroke-width="16"/><use href="#s119" stroke-width="11.4"/><use href="#s120" stroke-width="10.5"/><use href="#s121" stroke-width="10.5"/><use href="#s122" stroke-width="14"/><use href="#s123" stroke-width="16.7"/><use href="#s124" stroke-width="19.3"/><use href="#s125" stroke-width="11"/><use href="#s126" stroke-width="16"/><use href="#s127" stroke-width="7"/><use href="#s128" stroke-width="0"/><use href="#s129" stroke-width="0"/><use href="#s130" stroke-width="7"/><use href="#s131" stroke-width="11"/><use href="#s132" stroke-width="16"/><use href="#s133" stroke-width="11.4"/><use href="#s134" stroke-width="14"/><use href="#s135" stroke-width="16.7"/><use href="#s136" stroke-width="19.3"/><use href="#s137" stroke-width="19.3"/><use href="#s138" stroke-width="7"/><use href="#s139" stroke-width="7"/><use href="#s140" stroke-width="11"/><use href="#s141" stroke-width="11"/><use href="#s142" stroke-width="16"/><use href="#s143" stroke-width="11.4"/><use href="#s144" stroke-width="14"/><use href="#s145" stroke-width="14"/><use href="#s146" stroke-width="16.7"/><use href="#s147" stroke-width="19.3"/><use href="#s148" stroke-width="11.4"/><use href="#s149" stroke-width="16"/><use href="#s150" stroke-width="11.4"/><use href="#s151" stroke-width="14"/><use href="#s152" stroke-width="11.4"/><use href="#s153" stroke-width="16.7"/><use href="#s154" stroke-width="15.2"/><use href="#s155" stroke-width="14"/><use href="#s156" stroke-width="16.7"/><use href="#s157" stroke-width="16.7"/><use href="#s158" stroke-width="11"/><use href="#s159" stroke-width="16"/><use href="#s160" stroke-width="11.4"/><use href="#s161" stroke-width="7"/><use href="#s162" stroke-width="11"/><use href="#s163" stroke-width="16.1"/><use href="#s164" stroke-width="11"/><use href="#s165" stroke-width="11"/><use href="#s166" stroke-width="16"/><use href="#s167" stroke-width="11.4"/><use href="#s168" stroke-width="11"/><use href="#s169" stroke-width="16"/><use href="#s170" stroke-width="11"/><use href="#s171" stroke-width="11.4"/><use href="#s172" stroke-width="14"/><use href="#s173" stroke-width="16.7"/><use href="#s174" stroke-width="0"/><use href="#s175" stroke-width="11"/><use href="#s176" stroke-width="11.4"/><use href="#s177" stroke-width="14"/><use href="#s178" stroke-width="11"/><use href="#s179" stroke-width="16"/><use href="#s180" stroke-width="7"/><use href="#s181" stroke-width="11"/><use href="#s182" stroke-width="0"/><use href="#s183" stroke-width="11"/><use href="#s184" stroke-width="11.4"/><use href="#s185" stroke-width="14"/><use href="#s186" stroke-width="16.7"/><use href="#s187" stroke-width="11.4"/><use href="#s188" stroke-width="14"/><use href="#s189" stroke-width="16.7"/><use href="#s190" stroke-width="11"/><use href="#s191" stroke-width="0"/><use href="#s192" stroke-width="7"/><use href="#s193" stroke-width="0"/><use href="#s194" stroke-width="7"/><use href="#s195" stroke-width="0"/><use href="#s196" stroke-width="7"/><use href="#s197" stroke-width="11"/><use href="#s198" stroke-width="11"/><use href="#s199" stroke-width="16"/><use href="#s200" stroke-width="11.4"/><use href="#s201" stroke-width="14"/><use href="#s202" stroke-width="11"/><use href="#s203" stroke-width="16"/><use href="#s204" stroke-width="0"/><use href="#s205" stroke-width="7"/><use href="#s206" stroke-width="11"/><use href="#s207" stroke-width="16"/><use href="#s208" stroke-width="11.4"/><use href="#s209" stroke-width="14"/><use href="#s210" stroke-width="11"/><use href="#s211" stroke-width="7"/><use href="#s212" stroke-width="11"/><use href="#s213" stroke-width="16"/><use href="#s214" stroke-width="16"/><use href="#s215" stroke-width="11.4"/><use href="#s216" stroke-width="11.4"/><use href="#s217" stroke-width="12.3"/><use href="#s218" stroke-width="14"/><use href="#s219" stroke-width="16.7"/><use href="#s220" stroke-width="16.7"/><use href="#s221" stroke-width="19.3"/><use href="#s222" stroke-width="10.5"/><use href="#s223" stroke-width="11"/><use href="#s224" stroke-width="11"/><use href="#s225" stroke-width="14"/><use href="#s226" stroke-width="16.7"/><use href="#s227" stroke-width="19.3"/><use href="#s228" stroke-width="16.7"/><use href="#s229" stroke-width="19.3"/><use href="#s230" stroke-width="16.7"/><use href="#s231" stroke-width="19.3"/><use href="#s232" stroke-width="11"/><use href="#s233" stroke-width="16"/><use href="#s234" stroke-width="11"/><use href="#s235" stroke-width="7"/><use href="#s236" stroke-width="7"/><use href="#s237" stroke-width="0"/><use href="#s238" stroke-width="0"/><use href="#s239" stroke-width="7"/><use href="#s240" stroke-width="11"/><use href="#s241" stroke-width="11"/><use href="#s242" stroke-width="16"/><use href="#s243" stroke-width="11.4"/><use href="#s244" stroke-width="7"/><use href="#s245" stroke-width="11"/><use href="#s246" stroke-width="7"/><use href="#s247" stroke-width="16"/><use href="#s248" stroke-width="11.4"/><use href="#s249" stroke-width="14"/><use href="#s250" stroke-width="16.7"/><use href="#s251" stroke-width="11.4"/><use href="#s252" stroke-width="14"/><use href="#s253" stroke-width="11"/><use href="#s254" stroke-width="16"/><use href="#s255" stroke-width="7"/><use href="#s256" stroke-width="11"/><use href="#s257" stroke-width="11"/><use href="#s258" stroke-width="16"/><use href="#s259" stroke-width="11"/><use href="#s260" stroke-width="16"/><use href="#s261" stroke-width="0"/><use href="#s262" stroke-width="7"/><use href="#s263" stroke-width="11"/><use href="#s264" stroke-width="0"/><use href="#s265" stroke-width="0"/><use href="#s266" stroke-width="7"/><use href="#s267" stroke-width="0"/><use href="#s268" stroke-width="7"/><use href="#s269" stroke-width="11"/><use href="#s270" stroke-width="11"/><use href="#s271" stroke-width="7"/><use href="#s272" stroke-width="11"/><use href="#s273" stroke-width="11"/><use href="#s274" stroke-width="7"/><use href="#s275" stroke-width="11"/><use href="#s276" stroke-width="16"/><use href="#s277" stroke-width="11.4"/><use href="#s278" stroke-width="14"/><use href="#s279" stroke-width="16"/><use href="#s280" stroke-width="15.2"/><use href="#s281" stroke-width="14"/><use href="#s282" stroke-width="0"/><use href="#s283" stroke-width="7"/><use href="#s284" stroke-width="0"/><use href="#s285" stroke-width="16"/><use href="#s286" stroke-width="11"/><use href="#s287" stroke-width="7"/><use href="#s288" stroke-width="11"/><use href="#s289" stroke-width="16"/><use href="#s290" stroke-width="11.4"/><use href="#s291" stroke-width="14"/><use href="#s292" stroke-width="16"/></g>
<g fill="#00ff00" stroke="#00ff00" stroke-linejoin="round"><use href="#s0" stroke-width="4"/><use href="#s1" stroke-width="16.4"/><use href="#s2" stroke-width="0"/><use href="#s3" stroke-width="4"/><use href="#s4" stroke-width="4"/><use href="#s5" stroke-width="0"/><use href="#s6" stroke-width="4"/><use href="#s7" stroke-width="4"/><use href="#s8" stroke-width="9"/><use href="#s9" stroke-width="9"/><use href="#s10" stroke-width="16.4"/><use href="#s11" stroke-width="12.5"/><use href="#s12" stroke-width="12"/><use href="#s13" stroke-width="0"/><use href="#s14" stroke-width="20.8"/><use href="#s15" stroke-width="15.1"/><use href="#s16" stroke-width="4"/><use href="#s17" stroke-width="4"/><use href="#s18" stroke-width="4"/><use href="#s19" stroke-width="9"/><use href="#s20" stroke-width="7.2"/><use href="#s21" stroke-width="9.8"/><use href="#s22" stroke-width="12.5"/><use href="#s23" stroke-width="15.1"/><use href="#s24" stroke-width="4"/><use href="#s25" stroke-width="9"/><use href="#s26" stroke-width="7.2"/><use href="#s27" stroke-width="15.1"/><use href="#s28" stroke-width="12.5"/><use href="#s29" stroke-width="9.8"/><use href="#s30" stroke-width="9.8"/><use href="#s31" stroke-width="9"/><use href="#s32" stroke-width="7.2"/><use href="#s33" stroke-width="9.8"/><use href="#s34" stroke-width="12.5"/><use href="#s35" stroke-width="4"/><use href="#s36" stroke-width="9"/><use href="#s37" stroke-width="4"/><use href="#s38" stroke-width="9"/><use href="#s39" stroke-width="9.6"/><use href="#s40" stroke-width="9.8"/><use href="#s41" stroke-width="12.5"/><use href="#s42" stroke-width="4"/><use href="#s43" stroke-width="9"/><use href="#s44" stroke-width="7.2"/><use href="#s45" stroke-width="9.8"/><use href="#s46" stroke-width="9"/><use href="#s47" stroke-width="4"/><use href="#s48" stroke-width="0"/><use href="#s49" stroke-width="7.2"/><use href="#s50" stroke-width="9.8"/><use href="#s51" stroke-width="4"/><use href="#s52" stroke-width="9"/><use href="#s53" stroke-width="7.2"/><use href="#s56" stroke-width="4"/><use href="#s57" stroke-width="10.2"/><use href="#s58" stroke-width="9.8"/><use href="#s59" stroke-width="7.2"/><use href="#s60" stroke-width="7.2"/><use href="#s61" stroke-width="9.8"/><use href="#s62" stroke-width="9"/><use href="#s63" stroke-width="0"/><use href="#s64" stroke-width="7.2"/><use href="#s65" stroke-width="9.8"/><use href="#s66" stroke-width="12.5"/><use href="#s67" stroke-width="12.5"/><use href="#s68" stroke-width="12.5"/><use href="#s69" stroke-width="12.5"/><use href="#s70" stroke-width="9"/><use href="#s71" stroke-width="4"/><use href="#s72" stroke-width="0"/><use href="#s73" stroke-width="4"/><use href="#s74" stroke-width="9"/><use href="#s75" stroke-width="0"/><use href="#s76" stroke-width="4"/><use href="#s77" stroke-width="0"/><use href="#s78" stroke-width="10.2"/><use href="#s79" stroke-width="9.8"/><use href="#s80" stroke-width="0"/><use href="#s81" stroke-width="0"/><use href="#s82" stroke-width="4"/><use href="#s83" stroke-width="9"/><use href="#s84" stroke-width="9"/><use href="#s85" stroke-width="4"/><use href="#s86" stroke-width="4"/><use href="#s87" stroke-width="4"/><use href="#s88" stroke-width="9"/><use href="#s89" stroke-width="10.2"/><use href="#s90" stroke-width="4"/><use href="#s91" stroke-width="12.5"/><use href="#s92" stroke-width="15.1"/><use href="#s93" stroke-width="4"/><use href="#s94" stroke-width="9"/><use href="#s95" stroke-width="7.2"/><use href="#s96" stroke-width="0"/><use href="#s97" stroke-width="4"/><use href="#s98" stroke-width="0"/><use href="#s99" stroke-width="4"/><use href="#s101" stroke-width="0"/><use href="#s102" stroke-width="0"/><use href="#s103" stroke-width="4"/><use href="#s104" stroke-width="4"/><use href="#s106" stroke-width="4"/><use href="#s107" stroke-width="9"/><use href="#s108" stroke-width="7.2"/><use href="#s109" stroke-width="0"/><use href="#s110" stroke-width="0"/><use href="#s111" stroke-width="4"/><use href="#s112" stroke-width="9"/><use href="#s113" stroke-width="9.6"/><use href="#s114" stroke-width="9.8"/><use href="#s115" stroke-width="12.5"/><use href="#s116" stroke-width="12.5"/><use href="#s117" stroke-width="15.1"/><use href="#s118" stroke-width="9"/><use href="#s119" stroke-width="7.2"/><use href="#s120" stroke-width="6.6"/><use href="#s121" stroke-width="6.6"/><use href="#s122" stroke-width="9.8"/><use href="#s123" stroke-width="12.5"/><use href="#s124" stroke-width="15.1"/><use href="#s125" stroke-width="4"/><use href="#s126" stroke-width="9"/><use href="#s127" stroke-width="0"/><use href="#s130" stroke-width="0"/><use href="#s131" stroke-width="4"/><use href="#s132" stroke-width="9"/><use href="#s133" stroke-width="7.2"/><use href="#s134" stroke-width="9.8"/><use href="#s135" stroke-width="12.5"/><use href="#s136" stroke-width="15.1"/><use href="#s137" stroke-width="15.1"/><use href="#s138" stroke-width="0"/><use href="#s139" stroke-width="0"/><use href="#s140" stroke-width="4"/><use href="#s141" stroke-width="4"/><use href="#s142" stroke-width="9"/><use href="#s143" stroke-width="7.2"/><use href="#s144" stroke-width="9.8"/><use href="#s145" stroke-width="9.8"/><use href="#s146" stroke-width="12.5"/><use href="#s147" stroke-width="15.1"/><use href="#s148" stroke-width="7.2"/><use href="#s149" stroke-width="9"/><use href="#s150" stroke-width="7.2"/><use href="#s151" stroke-width="9.8"/><use href="#s152" stroke-width="7.2"/><use href="#s153" stroke-width="12.5"/><use href="#s154" stroke-width="9.6"/><use href="#s155" stroke-width="9.8"/><use href="#s156" stroke-width="12.5"/><use href="#s157" stroke-width="12.5"/><use href="#s158" stroke-width="4"/><use href="#s159" stroke-width="9"/><use href="#s160" stroke-width="7.2"/><use href="#s161" stroke-width="0"/><use href="#s162" stroke-width="4"/><use href="#s163" stroke-width="10.2"/><use href="#s164" stroke-width="4"/><use href="#s165" stroke-width="4"/><use href="#s166" stroke-width="9"/><use href="#s167" stroke-width="7.2"/><use href="#s168" stroke-width="4"/><use href="#s169" stroke-width="9"/><use href="#s170" stroke-width="4"/><use href="#s171" stroke-width="7.2"/><use href="#s172" stroke-width="9.8"/><use href="#s173" stroke-width="12.5"/><use href="#s175" stroke-width="4"/><use href="#s176" stroke-width="7.2"/><use href="#s177" stroke-width="9.8"/><use href="#s178" stroke-width="4"/><use href="#s179" stroke-width="9"/><use href="#s180" stroke-width="0"/><use href="#s181" stroke-width="4"/><use href="#s183" stroke-width="4"/><use href="#s184" stroke-width="7.2"/><use href="#s185" stroke-width="9.8"/><use href="#s186" stroke-width="12.5"/><use href="#s187" stroke-width="7.2"/><use href="#s188" stroke-width="9.8"/><use href="#s189" stroke-width="12.5"/><use href="#s190" stroke-width="4"/><use href="#s192" stroke-width="0"/><use href="#s194" stroke-width="0"/><use href="#s196" stroke-width="0"/><use href="#s197" stroke-width="4"/><use href="#s198" stroke-width="4"/><use href="#s199" stroke-width="9"/><use href="#s200" stroke-width="7.2"/><use href="#s201" stroke-width="9.8"/><use href="#s202" stroke-width="4"/><use href="#s203" stroke-width="9"/><use href="#s205" stroke-width="0"/><use href="#s206" stroke-width="4"/><use href="#s207" stroke-width="9"/><use href="#s208" stroke-width="7.2"/><use href="#s209" stroke-width="9.8"/><use href="#s210" stroke-width="4"/><use href="#s211" stroke-width="0"/><use href="#s212" stroke-width="4"/><use href="#s213" stroke-width="9"/><use href="#s214" stroke-width="9"/><use href="#s215" stroke-width="7.2"/><use href="#s216" stroke-width="7.2"/><use href="#s217" stroke-width="7.8"/><use href="#s218" stroke-width="9.8"/><use href="#s219" stroke-width="12.5"/><use href="#s220" stroke-width="12.5"/><use href="#s221" stroke-width="15.1"/><use href="#s222" stroke-width="6.6"/><use href="#s223" stroke-width="4"/><use href="#s224" stroke-width="4"/><use href="#s225" stroke-width="9.8"/><use href="#s226" stroke-width="12.5"/><use href="#s227" stroke-width="15.1"/><use href="#s228" stroke-width="12.5"/><use href="#s229" stroke-width="15.1"/><use href="#s230" stroke-width="12.5"/><use href="#s231" stroke-width="15.1"/><use href="#s232" stroke-width="4"/><use href="#s233" stroke-width="9"/><use href="#s234" stroke-width="4"/><use href="#s235" stroke-width="0"/><use href="#s236" stroke-width="0"/><use href="#s239" stroke-width="0"/><use href="#s240" stroke-width="4"/><use href="#s241" stroke-width="4"/><use href="#s242" stroke-width="9"/><use href="#s243" stroke-width="7.2"/><use href="#s244" stroke-width="0"/><use href="#s245" stroke-width="4"/><use href="#s246" stroke-width="0"/><use href="#s247" stroke-width="9"/><use href="#s248" stroke-width="7.2"/><use href="#s249" stroke-width="9.8"/><use href="#s250" stroke-width="12.5"/><use href="#s251" stroke-width="7.2"/><use href="#s252" stroke-width="9.8"/><use href="#s253" stroke-width="4"/><use href="#s254" stroke-width="9"/><use href="#s255" stroke-width="0"/><use href="#s256" stroke-width="4"/><use href="#s257" stroke-width="4"/><use href="#s258" stroke-width="9"/><use href="#s259" stroke-width="4"/><use href="#s260" stroke-width="9"/><use href="#s262" stroke-width="0"/><use href="#s263" stroke-width="4"/><use href="#s266" stroke-width="0"/><use href="#s268" stroke-width="0"/><use href="#s269" stroke-width="4"/><use href="#s270" stroke-width="4"/><use href="#s271" stroke-width="0"/><use href="#s272" stroke-width="4"/><use href="#s273" stroke-width="4"/><use href="#s274" stroke-width="0"/><use href="#s275" stroke-width="4"/><use href="#s276" stroke-width="9"/><use href="#s277" stroke-width="7.2"/><use href="#s278" stroke-width="9.8"/><use href="#s279" stroke-width="9"/><use href="#s280" stroke-width="9.6"/><use href="#s281" stroke-width="9.8"/><use href="#s283" stroke-width="0"/><use href="#s285" stroke-width="9"/><use href="#s286" stroke-width="4"/><use href="#s287" stroke-width="0"/><use href="#s288" stroke-width="4"/><use href="#s289" stroke-width="9"/><use href="#s290" stroke-width="7.2"/><use href="#s291" stroke-width="9.8"/><use href="#s292" stroke-width="9"/></g>
<g fill="#00c800" stroke="#00c800" stroke-linejoin="round"><use href="#s0" stroke-width="0"/><use href="#s1" stroke-width="12.4"/><use href="#s3" stroke-width="0"/><use href="#s4" stroke-width="0"/><use href="#s6" stroke-width="0"/><use href="#s7" stroke-width="0"/><use href="#s8" stroke-width="5"/><use href="#s9" stroke-width="5"/><use href="#s10" stroke-width="12.4"/><use href="#s11" stroke-width="10.1"/><use href="#s12" stroke-width="8"/><use href="#s14" stroke-width="16.8"/><use href="#s15" stroke-width="12.7"/><use href="#s16" stroke-width="0"/><use href="#s17" stroke-width="0"/><use href="#s18" stroke-width="0"/><use href="#s19" stroke-width="5"/><use href="#s20" stroke-width="4.8"/><use href="#s21" stroke-width="7.4"/><use href="#s22" stroke-width="10.1"/><use href="#s23" stroke-width="12.7"/><use href="#s24" stroke-width="0"/><use href="#s25" stroke-width="5"/><use href="#s26" stroke-width="4.8"/><use href="#s27" stroke-width="12.7"/><use href="#s28" stroke-width="10.1"/><use href="#s29" stroke-width="7.4"/><use href="#s30" stroke-width="7.4"/><use href="#s31" stroke-width="5"/><use href="#s32" stroke-width="4.8"/><use href="#s33" stroke-width="7.4"/><use href="#s34" stroke-width="10.1"/><use href="#s35" stroke-width="0"/><use href="#s36" stroke-width="5"/><use href="#s37" stroke-width="0"/><use href="#s38" stroke-width="5"/><use href="#s39" stroke-width="6.4"/><use href="#s40" stroke-width="7.4"/><use href="#s41" stroke-width="10.1"/><use href="#s42" stroke-width="0"/><use href="#s43" stroke-width="5"/><use href="#s44" stroke-width="4.8"/><use href="#s45" stroke-width="7.4"/><use href="#s46" stroke-width="5"/><use href="#s47" stroke-width="0"/><use href="#s49" stroke-width="4.8"/><use href="#s50" stroke-width="7.4"/><use href="#s51" stroke-width="0"/><use href="#s52" stroke-width="5"/><use href="#s53" stroke-width="4.8"/><use href="#s56" stroke-width="0"/><use href="#s57" stroke-width="6.8"/><use href="#s58" stroke-width="7.4"/><use href="#s59" stroke-width="4.8"/><use href="#s60" stroke-width="4.8"/><use href="#s61" stroke-width="7.4"/><use href="#s62" stroke-width="5"/><use href="#s64" stroke-width="4.8"/><use href="#s65" stroke-width="7.4"/><use href="#s66" stroke-width="10.1"/><use href="#s67" stroke-width="10.1"/><use href="#s68" stroke-width="10.1"/><use href="#s69" stroke-width="10.1"/><use href="#s70" stroke-width="5"/><use href="#s71" stroke-width="0"/><use href="#s73" stroke-width="0"/><use href="#s74" stroke-width="5"/><use href="#s76" stroke-width="0"/><use href="#s78" stroke-width="6.8"/><use href="#s79" stroke-width="7.4"/><use href="#s82" stroke-width="0"/><use href="#s83" stroke-width="5"/><use href="#s84" stroke-width="5"/><use href="#s85" stroke-width="0"/><use href="#s86" stroke-width="0"/><use href="#s87" stroke-width="0"/><use href="#s88" stroke-width="5"/><use href="#s89" stroke-width="6.8"/><use href="#s90" stroke-width="0"/><use href="#s91" stroke-width="10.1"/><use href="#s92" stroke-width="12.7"/><use href="#s93" stroke-width="0"/><use href="#s94" stroke-width="5"/><use href="#s95" stroke-width="4.8"/><use href="#s97" stroke-width="0"/><use href="#s99" stroke-width="0"/><use href="#s103" stroke-width="0"/><use href="#s104" stroke-width="0"/><use href="#s106" stroke-width="0"/><use href="#s107" stroke-width="5"/><use href="#s108" stroke-width="4.8"/><use href="#s111" stroke-width="0"/><use href="#s112" stroke-width="5"/><use href="#s113" stroke-width="6.4"/><use href="#s114" stroke-width="7.4"/><use href="#s115" stroke-width="10.1"/><use href="#s116" stroke-width="10.1"/><use href="#s117" stroke-width="12.7"/><use href="#s118" stroke-width="5"/><use href="#s119" stroke-width="4.8"/><use href="#s120" stroke-width="4.4"/><use href="#s121" stroke-width="4.4"/><use href="#s122" stroke-width="7.4"/><use href="#s123" stroke-width="10.1"/><use href="#s124" stroke-width="12.7"/><use href="#s125" stroke-width="0"/><use href="#s126" stroke-width="5"/><use href="#s131" stroke-width="0"/><use href="#s132" stroke-width="5"/><use href="#s133" stroke-width="4.8"/><use href="#s134" stroke-width="7.4"/><use href="#s135" stroke-width="10.1"/><use href="#s136" stroke-width="12.7"/><use href="#s137" stroke-width="12.7"/><use href="#s140" stroke-width="0"/><use href="#s141" stroke-width="0"/><use href="#s142" stroke-width="5"/><use href="#s143" stroke-width="4.8"/><use href="#s144" stroke-width="7.4"/><use href="#s145" stroke-width="7.4"/><use href="#s146" stroke-width="10.1"/><use href="#s147" stroke-width="12.7"/><use href="#s148" stroke-width="4.8"/><use href="#s149" stroke-width="5"/><use href="#s150" stroke-width="4.8"/><use href="#s151" stroke-width="7.4"/><use href="#s152" stroke-width="4.8"/><use href="#s153" stroke-width="10.1"/><use href="#s154" stroke-width="6.4"/><use href="#s155" stroke-width="7.4"/><use href="#s156" stroke-width="10.1"/><use href="#s157" stroke-width="10.1"/><use href="#s158" stroke-width="0"/><use href="#s159" stroke-width="5"/><use href="#s160" stroke-width="4.8"/><use href="#s162" stroke-width="0"/><use href="#s163" stroke-width="6.8"/><use href="#s164" stroke-width="0"/><use href="#s165" stroke-width="0"/><use href="#s166" stroke-width="5"/><use href="#s167" stroke-width="4.8"/><use href="#s168" stroke-width="0"/><use href="#s169" stroke-width="5"/><use href="#s170" stroke-width="0"/><use href="#s171" stroke-width="4.8"/><use href="#s172" stroke-width="7.4"/><use href="#s173" stroke-width="10.1"/><use href="#s175" stroke-width="0"/><use href="#s176" stroke-width="4.8"/><use href="#s177" stroke-width="7.4"/><use href="#s178" stroke-width="0"/><use href="#s179" stroke-width="5"/><use href="#s181" stroke-width="0"/><use href="#s183" stroke-width="0"/><use href="#s184" stroke-width="4.8"/><use href="#s185" stroke-width="7.4"/><use href="#s186" stroke-width="10.1"/><use href="#s187" stroke-width="4.8"/><use href="#s188" stroke-width="7.4"/><use href="#s189" stroke-width="10.1"/><use href="#s190" stroke-width="0"/><use href="#s197" stroke-width="0"/><use href="#s198" stroke-width="0"/><use href="#s199" stroke-width="5"/><use href="#s200" stroke-width="4.8"/><use href="#s201" stroke-width="7.4"/><use href="#s202" stroke-width="0"/><use href="#s203" stroke-width="5"/><use href="#s206" stroke-width="0"/><use href="#s207" stroke-width="5"/><use href="#s208" stroke-width="4.8"/><use href="#s209" stroke-width="7.4"/><use href="#s210" stroke-width="0"/><use href="#s212" stroke-width="0"/><use href="#s213" stroke-width="5"/><use href="#s214" stroke-width="5"/><use href="#s215" stroke-width="4.8"/><use href="#s216" stroke-width="4.8"/><use href="#s217" stroke-width="5.2"/><use href="#s218" stroke-width="7.4"/><use href="#s219" stroke-width="10.1"/><use href="#s220" stroke-width="10.1"/><use href="#s221" stroke-width="12.7"/><use href="#s222" stroke-width="4.4"/><use href="#s223" stroke-width="0"/><use href="#s224" stroke-width="0"/><use href="#s225" stroke-width="7.4"/><use href="#s226" stroke-width="10.1"/><use href="#s227" stroke-width="12.7"/><use href="#s228" stroke-width="10.1"/><use href="#s229" stroke-width="12.7"/><use href="#s230" stroke-width="10.1"/><use href="#s231" stroke-width="12.7"/><use href="#s232" stroke-width="0"/><use href="#s233" stroke-width="5"/><use href="#s234" stroke-width="0"/><use href="#s240" stroke-width="0"/><use href="#s241" stroke-width="0"/><use href="#s242" stroke-width="5"/><use href="#s243" stroke-width="4.8"/><use href="#s245" stroke-width="0"/><use href="#s247" stroke-width="5"/><use href="#s248" stroke-width="4.8"/><use href="#s249" stroke-width="7.4"/><use href="#s250" stroke-width="10.1"/><use href="#s251" stroke-width="4.8"/><use href="#s252" stroke-width="7.4"/><use href="#s253" stroke-width="0"/><use href="#s254" stroke-width="5"/><use href="#s256" stroke-width="0"/><use href="#s257" stroke-width="0"/><use href="#s258" stroke-width="5"/><use href="#s259" stroke-width="0"/><use href="#s260" stroke-width="5"/><use href="#s263" stroke-width="0"/><use href="#s269" stroke-width="0"/><use href="#s270" stroke-width="0"/><use href="#s272" stroke-width="0"/><use href="#s273" stroke-width="0"/><use href="#s275" stroke-width="0"/><use href="#s276" stroke-width="5"/><use href="#s277" stroke-width="4.8"/><use href="#s278" stroke-width="7.4"/><use href="#s279" stroke-width="5"/><use href="#s280" stroke-width="6.4"/><use href="#s281" stroke-width="7.4"/><use href="#s285" stroke-width="5"/><use href="#s286" stroke-width="0"/><use href="#s288" stroke-width="0"/><use href="#s289" stroke-width="5"/><use href="#s290" stroke-width="4.8"/><use href="#s291" stroke-width="7.4"/><use href="#s292" stroke-width="5"/></g>
<ellipse cx="302.4" cy="186.7" rx="6.1" ry="4.8" fill="#00ff00"/>
<ellipse cx="1201.6" cy="289.3" rx="6.8" ry="7.6" fill="#00ff00"/>
<g fill="#009000" stroke="#009000" stroke-linejoin="round"><use href="#s1" stroke-width="7.4"/><use href="#s8" stroke-width="0"/><use href="#s9" stroke-width="0"/><use href="#s10" stroke-width="7.4"/><use href="#s11" stroke-width="7.1"/><use href="#s12" stroke-width="3"/><use href="#s14" stroke-width="11.8"/><use href="#s15" stroke-width="9.7"/><use href="#s19" stroke-width="0"/><use href="#s20" stroke-width="1.8"/><use href="#s21" stroke-width="4.4"/><use href="#s22" stroke-width="7.1"/><use href="#s23" stroke-width="9.7"/><use href="#s25" stroke-width="0"/><use href="#s26" stroke-width="1.8"/><use href="#s27" stroke-width="9.7"/><use href="#s28" stroke-width="7.1"/><use href="#s29" stroke-width="4.4"/><use href="#s30" stroke-width="4.4"/><use href="#s31" stroke-width="0"/><use href="#s32" stroke-width="1.8"/><use href="#s33" stroke-width="4.4"/><use href="#s34" stroke-width="7.1"/><use href="#s36" stroke-width="0"/><use href="#s38" stroke-width="0"/><use href="#s39" stroke-width="2.4"/><use href="#s40" stroke-width="4.4"/><use href="#s41" stroke-width="7.1"/><use href="#s43" stroke-width="0"/><use href="#s44" stroke-width="1.8"/><use href="#s45" stroke-width="4.4"/><use href="#s46" stroke-width="0"/><use href="#s49" stroke-width="1.8"/><use href="#s50" stroke-width="4.4"/><use href="#s52" stroke-width="0"/><use href="#s53" stroke-width="1.8"/><use href="#s57" stroke-width="2.5"/><use href="#s58" stroke-width="4.4"/><use href="#s59" stroke-width="1.8"/><use href="#s60" stroke-width="1.8"/><use href="#s61" stroke-width="4.4"/><use href="#s62" stroke-width="0"/><use href="#s64" stroke-width="1.8"/><use href="#s65" stroke-width="4.4"/><use href="#s66" stroke-width="7.1"/><use href="#s67" stroke-width="7.1"/><use href="#s68" stroke-width="7.1"/><use href="#s69" stroke-width="7.1"/><use href="#s70" stroke-width="0"/><use href="#s74" stroke-width="0"/><use href="#s78" stroke-width="2.5"/><use href="#s79" stroke-width="4.4"/><use href="#s83" stroke-width="0"/><use href="#s84" stroke-width="0"/><use href="#s88" stroke-width="0"/><use href="#s89" stroke-width="2.5"/><use href="#s91" stroke-width="7.1"/><use href="#s92" stroke-width="9.7"/><use href="#s94" stroke-width="0"/><use href="#s95" stroke-width="1.8"/><use href="#s107" stroke-width="0"/><use href="#s108" stroke-width="1.8"/><use href="#s112" stroke-width="0"/><use href="#s113" stroke-width="2.4"/><use href="#s114" stroke-width="4.4"/><use href="#s115" stroke-width="7.1"/><use href="#s116" stroke-width="7.1"/><use href="#s117" stroke-width="9.7"/><use href="#s118" stroke-width="0"/><use href="#s119" stroke-width="1.8"/><use href="#s120" stroke-width="1.7"/><use href="#s121" stroke-width="1.7"/><use href="#s122" stroke-width="4.4"/><use href="#s123" stroke-width="7.1"/><use href="#s124" stroke-width="9.7"/><use href="#s126" stroke-width="0"/><use href="#s132" stroke-width="0"/><use href="#s133" stroke-width="1.8"/><use href="#s134" stroke-width="4.4"/><use href="#s135" stroke-width="7.1"/><use href="#s136" stroke-width="9.7"/><use href="#s137" stroke-width="9.7"/><use href="#s142" stroke-width="0"/><use href="#s143" stroke-width="1.8"/><use href="#s144" stroke-width="4.4"/><use href="#s145" stroke-width="4.4"/><use href="#s146" stroke-width="7.1"/><use href="#s147" stroke-width="9.7"/><use href="#s148" stroke-width="1.8"/><use href="#s149" stroke-width="0"/><use href="#s150" stroke-width="1.8"/><use href="#s151" stroke-width="4.4"/><use href="#s152" stroke-width="1.8"/><use href="#s153" stroke-width="7.1"/><use href="#s154" stroke-width="2.4"/><use href="#s155" stroke-width="4.4"/><use href="#s156" stroke-width="7.1"/><use href="#s157" stroke-width="7.1"/><use href="#s159" stroke-width="0"/><use href="#s160" stroke-width="1.8"/><use href="#s163" stroke-width="2.5"/><use href="#s166" stroke-width="0"/><use href="#s167" stroke-width="1.8"/><use href="#s169" stroke-width="0"/><use href="#s171" stroke-width="1.8"/><use href="#s172" stroke-width="4.4"/><use href="#s173" stroke-width="7.1"/><use href="#s176" stroke-width="1.8"/><use href="#s177" stroke-width="4.4"/><use href="#s179" stroke-width="0"/><use href="#s184" stroke-width="1.8"/><use href="#s185" stroke-width="4.4"/><use href="#s186" stroke-width="7.1"/><use href="#s187" stroke-width="1.8"/><use href="#s188" stroke-width="4.4"/><use href="#s189" stroke-width="7.1"/><use href="#s199" stroke-width="0"/><use href="#s200" stroke-width="1.8"/><use href="#s201" stroke-width="4.4"/><use href="#s203" stroke-width="0"/><use href="#s207" stroke-width="0"/><use href="#s208" stroke-width="1.8"/><use href="#s209" stroke-width="4.4"/><use href="#s213" stroke-width="0"/><use href="#s214" stroke-width="0"/><use href="#s215" stroke-width="1.8"/><use href="#s216" stroke-width="1.8"/><use href="#s217" stroke-width="2"/><use href="#s218" stroke-width="4.4"/><use href="#s219" stroke-width="7.1"/><use href="#s220" stroke-width="7.1"/><use href="#s221" stroke-width="9.7"/><use href="#s222" stroke-width="1.7"/><use href="#s225" stroke-width="4.4"/><use href="#s226" stroke-width="7.1"/><use href="#s227" stroke-width="9.7"/><use href="#s228" stroke-width="7.1"/><use href="#s229" stroke-width="9.7"/><use href="#s230" stroke-width="7.1"/><use href="#s231" stroke-width="9.7"/><use href="#s233" stroke-width="0"/><use href="#s242" stroke-width="0"/><use href="#s243" stroke-width="1.8"/><use href="#s247" stroke-width="0"/><use href="#s248" stroke-width="1.8"/><use href="#s249" stroke-width="4.4"/><use href="#s250" stroke-width="7.1"/><use href="#s251" stroke-width="1.8"/><use href="#s252" stroke-width="4.4"/><use href="#s254" stroke-width="0"/><use href="#s258" stroke-width="0"/><use href="#s260" stroke-width="0"/><use href="#s276" stroke-width="0"/><use href="#s277" stroke-width="1.8"/><use href="#s278" stroke-width="4.4"/><use href="#s279" stroke-width="0"/><use href="#s280" stroke-width="2.4"/><use href="#s281" stroke-width="4.4"/><use href="#s285" stroke-width="0"/><use href="#s289" stroke-width="0"/><use href="#s290" stroke-width="1.8"/><use href="#s291" stroke-width="4.4"/><use href="#s292" stroke-width="0"/></g>
<g fill="#ffff00" stroke="#ffff00" stroke-linejoin="round"><use href="#s1" stroke-width="4.4"/><use href="#s10" stroke-width="4.4"/><use href="#s11" stroke-width="5.3"/><use href="#s12" stroke-width="0"/><use href="#s14" stroke-width="8.8"/><use href="#s15" stroke-width="7.9"/><use href="#s20" stroke-width="0"/><use href="#s21" stroke-width="2.6"/><use href="#s22" stroke-width="5.3"/><use href="#s23" stroke-width="7.9"/><use href="#s26" stroke-width="0"/><use href="#s27" stroke-width="7.9"/><use href="#s28" stroke-width="5.3"/><use href="#s29" stroke-width="2.6"/><use href="#s30" stroke-width="2.6"/><use href="#s32" stroke-width="0"/><use href="#s33" stroke-width="2.6"/><use href="#s34" stroke-width="5.3"/><use href="#s39" stroke-width="0"/><use href="#s40" stroke-width="2.6"/><use href="#s41" stroke-width="5.3"/><use href="#s44" stroke-width="0"/><use href="#s45" stroke-width="2.6"/><use href="#s49" stroke-width="0"/><use href="#s50" stroke-width="2.6"/><use href="#s53" stroke-width="0"/><use href="#s57" stroke-width="0"/><use href="#s58" stroke-width="2.6"/><use href="#s59" stroke-width="0"/><use href="#s60" stroke-width="0"/><use href="#s61" stroke-width="2.6"/><use href="#s64" stroke-width="0"/><use href="#s65" stroke-width="2.6"/><use href="#s66" stroke-width="5.3"/><use href="#s67" stroke-width="5.3"/><use href="#s68" stroke-width="5.3"/><use href="#s69" stroke-width="5.3"/><use href="#s78" stroke-width="0"/><use href="#s79" stroke-width="2.6"/><use href="#s89" stroke-width="0"/><use href="#s91" stroke-width="5.3"/><use href="#s92" stroke-width="7.9"/><use href="#s95" stroke-width="0"/><use href="#s108" stroke-width="0"/><use href="#s113" stroke-width="0"/><use href="#s114" stroke-width="2.6"/><use href="#s115" stroke-width="5.3"/><use href="#s116" stroke-width="5.3"/><use href="#s117" stroke-width="7.9"/><use href="#s119" stroke-width="0"/><use href="#s120" stroke-width="0"/><use href="#s121" stroke-width="0"/><use href="#s122" stroke-width="2.6"/><use href="#s123" stroke-width="5.3"/><use href="#s124" stroke-width="7.9"/><use href="#s133" stroke-width="0"/><use href="#s134" stroke-width="2.6"/><use href="#s135" stroke-width="5.3"/><use href="#s136" stroke-width="7.9"/><use href="#s137" stroke-width="7.9"/><use href="#s143" stroke-width="0"/><use href="#s144" stroke-width="2.6"/><use href="#s145" stroke-width="2.6"/><use href="#s146" stroke-width="5.3"/><use href="#s147" stroke-width="7.9"/><use href="#s148" stroke-width="0"/><use href="#s150" stroke-width="0"/><use href="#s151" stroke-width="2.6"/><use href="#s152" stroke-width="0"/><use href="#s153" stroke-width="5.3"/><use href="#s154" stroke-width="0"/><use href="#s155" stroke-width="2.6"/><use href="#s156" stroke-width="5.3"/><use href="#s157" stroke-width="5.3"/><use href="#s160" stroke-width="0"/><use href="#s163" stroke-width="0"/><use href="#s167" stroke-width="0"/><use href="#s171" stroke-width="0"/><use href="#s172" stroke-width="2.6"/><use href="#s173" stroke-width="5.3"/><use href="#s176" stroke-width="0"/><use href="#s177" stroke-width="2.6"/><use href="#s184" stroke-width="0"/><use href="#s185" stroke-width="2.6"/><use href="#s186" stroke-width="5.3"/><use href="#s187" stroke-width="0"/><use href="#s188" stroke-width="2.6"/><use href="#s189" stroke-width="5.3"/><use href="#s200" stroke-width="0"/><use href="#s201" stroke-width="2.6"/><use href="#s208" stroke-width="0"/><use href="#s209" stroke-width="2.6"/><use href="#s215" stroke-width="0"/><use href="#s216" stroke-width="0"/><use href="#s217" stroke-width="0"/><use href="#s218" stroke-width="2.6"/><use href="#s219" stroke-width="5.3"/><use href="#s220" stroke-width="5.3"/><use href="#s221" stroke-width="7.9"/><use href="#s222" stroke-width="0"/><use href="#s225" stroke-width="2.6"/><use href="#s226" stroke-width="5.3"/><use href="#s227" stroke-width="7.9"/><use href="#s228" stroke-width="5.3"/><use href="#s229" stroke-width="7.9"/><use href="#s230" stroke-width="5.3"/><use href="#s231" stroke-width="7.9"/><use href="#s243" stroke-width="0"/><use href="#s248" stroke-width="0"/><use href="#s249" stroke-width="2.6"/><use href="#s250" stroke-width="5.3"/><use href="#s251" stroke-width="0"/><use href="#s252" stroke-width="2.6"/><use href="#s277" stroke-width="0"/><use href="#s278" stroke-width="2.6"/><use href="#s280" stroke-width="0"/><use href="#s281" stroke-width="2.6"/><use href="#s290" stroke-width="0"/><use href="#s291" stroke-width="2.6"/></g>
<g fill="#ffcc00" stroke="#ffcc00" stroke-linejoin="round"><use href="#s1" stroke-width="0"/><use href="#s10" stroke-width="0"/><use href="#s11" stroke-width="2.6"/><use href="#s14" stroke-width="4.4"/><use href="#s15" stroke-width="5.3"/><use href="#s21" stroke-width="0"/><use href="#s22" stroke-width="2.6"/><use href="#s23" stroke-width="5.3"/><use href="#s27" stroke-width="5.3"/><use href="#s28" stroke-width="2.6"/><use href="#s29" stroke-width="0"/><use href="#s30" stroke-width="0"/><use href="#s33" stroke-width="0"/><use href="#s34" stroke-width="2.6"/><use href="#s40" stroke-width="0"/><use href="#s41" stroke-width="2.6"/><use href="#s45" stroke-width="0"/><use href="#s50" stroke-width="0"/><use href="#s58" stroke-width="0"/><use href="#s61" stroke-width="0"/><use href="#s65" stroke-width="0"/><use href="#s66" stroke-width="2.6"/><use href="#s67" stroke-width="2.6"/><use href="#s68" stroke-width="2.6"/><use href="#s69" stroke-width="2.6"/><use href="#s79" stroke-width="0"/><use href="#s91" stroke-width="2.6"/><use href="#s92" stroke-width="5.3"/><use href="#s114" stroke-width="0"/><use href="#s115" stroke-width="2.6"/><use href="#s116" stroke-width="2.6"/><use href="#s117" stroke-width="5.3"/><use href="#s122" stroke-width="0"/><use href="#s123" stroke-width="2.6"/><use href="#s124" stroke-width="5.3"/><use href="#s134" stroke-width="0"/><use href="#s135" stroke-width="2.6"/><use href="#s136" stroke-width="5.3"/><use href="#s137" stroke-width="5.3"/><use href="#s144" stroke-width="0"/><use href="#s145" stroke-width="0"/><use href="#s146" stroke-width="2.6"/><use href="#s147" stroke-width="5.3"/><use href="#s151" stroke-width="0"/><use href="#s153" stroke-width="2.6"/><use href="#s155" stroke-width="0"/><use href="#s156" stroke-width="2.6"/><use href="#s157" stroke-width="2.6"/><use href="#s172" stroke-width="0"/><use href="#s173" stroke-width="2.6"/><use href="#s177" stroke-width="0"/><use href="#s185" stroke-width="0"/><use href="#s186" stroke-width="2.6"/><use href="#s188" stroke-width="0"/><use href="#s189" stroke-width="2.6"/><use href="#s201" stroke-width="0"/><use href="#s209" stroke-width="0"/><use href="#s218" stroke-width="0"/><use href="#s219" stroke-width="2.6"/><use href="#s220" stroke-width="2.6"/><use href="#s221" stroke-width="5.3"/><use href="#s225" stroke-width="0"/><use href="#s226" stroke-width="2.6"/><use href="#s227" stroke-width="5.3"/><use href="#s228" stroke-width="2.6"/><use href="#s229" stroke-width="5.3"/><use href="#s230" stroke-width="2.6"/><use href="#s231" stroke-width="5.3"/><use href="#s249" stroke-width="0"/><use href="#s250" stroke-width="2.6"/><use href="#s252" stroke-width="0"/><use href="#s278" stroke-width="0"/><use href="#s281" stroke-width="0"/><use href="#s291" stroke-width="0"/></g>
<g fill="#ff8000" stroke="#ff8000" stroke-linejoin="round"><use href="#s11" stroke-width="0"/><use href="#s14" stroke-width="0"/><use href="#s15" stroke-width="2.6"/><use href="#s22" stroke-width="0"/><use href="#s23" stroke-width="2.6"/><use href="#s27" stroke-width="2.6"/><use href="#s28" stroke-width="0"/><use href="#s34" stroke-width="0"/><use href="#s41" stroke-width="0"/><use href="#s66" stroke-width="0"/><use href="#s67" stroke-width="0"/><use href="#s68" stroke-width="0"/><use href="#s69" stroke-width="0"/><use href="#s91" stroke-width="0"/><use href="#s92" stroke-width="2.6"/><use href="#s115" stroke-width="0"/><use href="#s116" stroke-width="0"/><use href="#s117" stroke-width="2.6"/><use href="#s123" stroke-width="0"/><use href="#s124" stroke-width="2.6"/><use href="#s135" stroke-width="0"/><use href="#s136" stroke-width="2.6"/><use href="#s137" stroke-width="2.6"/><use href="#s146" stroke-width="0"/><use href="#s147" stroke-width="2.6"/><use href="#s153" stroke-width="0"/><use href="#s156" stroke-width="0"/><use href="#s157" stroke-width="0"/><use href="#s173" stroke-width="0"/><use href="#s186" stroke-width="0"/><use href="#s189" stroke-width="0"/><use href="#s219" stroke-width="0"/><use href="#s220" stroke-width="0"/><use href="#s221" stroke-width="2.6"/><use href="#s226" stroke-width="0"/><use href="#s227" stroke-width="2.6"/><use href="#s228" stroke-width="0"/><use href="#s229" stroke-width="2.6"/><use href="#s230" stroke-width="0"/><use href="#s231" stroke-width="2.6"/><use href="#s250" stroke-width="0"/></g>
<g fill="#ff0000" stroke="#ff0000" stroke-linejoin="round"><use href="#s15" stroke-width="0"/><use href="#s23" stroke-width="0"/><use href="#s27" stroke-width="0"/><use href="#s92" stroke-width="0"/><use href="#s117" stroke-width="0"/><use href="#s124" stroke-width="0"/><use href="#s136" stroke-width="0"/><use href="#s137" stroke-width="0"/><use href="#s147" stroke-width="0"/><use href="#s221" stroke-width="0"/><use href="#s227" stroke-width="0"/><use href="#s229" stroke-width="0"/><use href="#s231" stroke-width="0"/></g>
<g stroke-linejoin="round"><path d="M638.2 202.1C639.4 201 643.1 203.3 645.2 205.1C647.3 206.8 650.9 210.9 650.7 212.6C650.5 214.3 646.1 215.3 644 215.1C641.9 214.9 639.2 213.5 638.2 211.3C637.3 209.2 637 203.1 638.2 202.1Z" fill="#00c800" stroke="#00c800" stroke-width="11"/><path d="M638.2 202.1C639.4 201 643.1 203.3 645.2 205.1C647.3 206.8 650.9 210.9 650.7 212.6C650.5 214.3 646.1 215.3 644 215.1C641.9 214.9 639.2 213.5 638.2 211.3C637.3 209.2 637 203.1 638.2 202.1Z" fill="#00ff00" stroke="#00ff00" stroke-width="8"/><path d="M638.2 202.1C639.4 201 643.1 203.3 645.2 205.1C647.3 206.8 650.9 210.9 650.7 212.6C650.5 214.3 646.1 215.3 644 215.1C641.9 214.9 639.2 213.5 638.2 211.3C637.3 209.2 637 203.1 638.2 202.1Z" fill="#80ff00" stroke="#80ff00" stroke-width="5"/><path d="M638.2 202.1C639.4 201 643.1 203.3 645.2 205.1C647.3 206.8 650.9 210.9 650.7 212.6C650.5 214.3 646.1 215.3 644 215.1C641.9 214.9 639.2 213.5 638.2 211.3C637.3 209.2 637 203.1 638.2 202.1Z" fill="#fff"/></g>
</g>
<g stroke="#8b3d12" stroke-width="1" stroke-dasharray="3 2" shape-rendering="crispEdges"><line x1="183.5" y1="70" x2="183.5" y2="593"/><line x1="354.5" y1="70" x2="354.5" y2="593"/><line x1="525.5" y1="70" x2="525.5" y2="593"/><line x1="696.5" y1="70" x2="696.5" y2="593"/><line x1="868.5" y1="70" x2="868.5" y2="593"/><line x1="1039.5" y1="70" x2="1039.5" y2="593"/><line x1="52" y1="252.5" x2="1211" y2="252.5"/><line x1="52" y1="432.5" x2="1211" y2="432.5"/><line x1="52" y1="70.5" x2="1211" y2="70.5"/><line x1="52" y1="612.5" x2="1211" y2="612.5"/><line x1="11.5" y1="70" x2="11.5" y2="593"/><line x1="1210.5" y1="70" x2="1210.5" y2="593"/></g>
<g clip-path="url(#mc)"><g fill="none" stroke="#8b3d12" stroke-width="1.5" stroke-linejoin="round"><path d="M10 127.6L18.8 128.1L23.8 130.1L28.8 135.1L32.5 140.1L32 146.4L29.5 151.4L31.3 157.6L33.8 161.4L32.5 167.7L35.1 175.2L40.1 182.7L46.3 190.2L52.6 196.5L57.6 199.7"/><path d="M57.6 199.5L65.1 197L75.1 195L86.4 193.8L90.1 190L105.2 190.5L110.2 193.8L117.7 196.3L125.2 198L130.2 193.8L136.5 188L143.2 185L145.7 190L142.2 197L150.2 198L157.2 197L157.2 202.5L153.2 207.6L147.7 212.6L140.2 216.3L130.2 217.6L120.2 216.3L110.2 216.3L100.2 213.8L90.1 212.1L78.9 210.1L75.1 213.1L76.4 220.1L75.1 228.8L76.4 234.6L79.6 236.3L85.1 233.8L95.1 233.1L103.9 234.6L107.2 237.6L107.7 232.6L101.4 231.3L110.2 232.1L115.2 235.6L118.9 241.4L125.2 242.6L130.2 241.4L136.5 245.1L144 247.6L152.7 248.9L161.5 248.9L160.2 244.6L157.7 243.1L162.7 246.4L166.5 251.4L172.8 255.1L176.5 256.4L182.8 251.4L187.8 245.1L195.3 245.1L200.3 247.6L205.3 252.6L212.8 254.6L220.3 256.4L227.8 260.1L235.4 265.1L241.6 271.4L247.9 277.7L255.4 285.2L262.9 291.4L270.4 296.4L275.4 298.9L280.4 305.2L286.7 310.2L292.9 312.7L297.9 317.7L300.5 322.7L297.9 330.2L295.4 335"/><path d="M110.2 193.8L117.7 200L122.7 210.1L125.2 216.3"/><path d="M295.4 334.5L291.7 341.3L285.4 350.1L279.9 356.3L279.2 361.3L277.9 368.8L269.2 369.6L260.4 367.6L254.1 363.8L251.6 365.1L251.6 371.3L247.9 380.1L244.1 390.1L241.6 394.6L235.4 395.6L226.6 396.4L226.6 392.6L222.8 385.1L217.8 376.3L212.8 368.8L207.8 362.6L200.3 360.1L191.5 357.1L189 358.8L177.8 360.1L172.8 361.8L165.2 360.1L155.2 358.1L150.2 355.1L144 350.8L131.4 352.6L130.2 353.8L117.7 353.8L105.2 355.1L98.9 357.6L92.6 358.8L86.4 355.1L80.1 350.8L76.4 351.3L75.1 358.1L67.6 356.3L65.6 352.1L57.6 349.6L40.1 347.5L28.8 347.5L20 352.6L10 355.6"/><path d="M220.3 396.9L226.6 398.1L234.1 399.6L240.4 402.6L246.6 401.4L252.9 403.9L257.4 409.6L257.9 413.9L247.9 412.6L237.9 411.4L229.1 410.1L224.1 406.4L220.8 401.4Z"/><path d="M610 345.5L600.4 344.5L590.4 343L580.4 344.5L572.9 345.5L562.9 343L555.4 341.8L545.4 343.8L530.3 343L522.8 339.3L510.3 338.8L500.3 340L496.5 345L497.3 351.3L499 356.3L495.3 360.1L487.8 362.1L481.5 363.8L479.8 368.8L481.5 375.1L485.3 380.1L492.8 383.1L496.5 388.9L500.3 395.1L497.3 400.1L495.8 410.1L496.5 417.7L492.8 425.2L494 428.9L496.5 431.4L491.5 435.2L492.8 440.2L495.3 443.9L499 440.2L505.3 441.4L512.8 437.7L522.8 436.9L530.3 440.2L539.1 445.2L540.4 442.2L552.9 441.4L560.4 437.7L564.1 432.2L566.6 434.7L575.4 437.2L585.4 438.2L595.4 437.7L610 435.7"/><path d="M365.1 415.2L368.8 412.1L378.9 411.4L382.6 415.2L379.6 420.2L373.9 423.2L368.8 420.7Z"/><path d="M360.6 403.9L363.1 403.4L363.1 405.1L361.1 405.1Z"/><path d="M441.5 360.8L445.7 363.1L441.5 363.1Z"/><path d="M609.5 345.5L620 344.5L635 343.8L642.5 347.5L655.1 346.8L672.6 347.5L675.6 345.5L687.6 351.3L696.4 348.8L710.2 350.6L720.2 352.6L727.7 355.1L730.2 358.1L732.7 356.3L737.7 360.1L745.2 362.6L752.7 365.1L760.2 362.6L762 365.1L761 375.1L760.2 385.1L764.7 388.9L762.7 392.6L754 395.6L747.7 398.1L741.4 400.1L736.4 405.1L732.7 411.4L731.4 420.2L725.7 422.2L723.9 428.9L717.7 434.7L710.2 438.2L702.6 437.7L693.9 436.4L691.4 438.9L682.6 438.9L673.8 441.4L663.8 445.2L661.3 441.4L652.6 443.9L642.5 437.7L635 437.2L630 442.7L620 437.7L616.3 433.9L609.5 435.7"/><path d="M672.6 346.3L680.1 356.3L686.4 354.6L675.6 346.3"/><path d="M769.5 411.4L780.3 406.4L796.5 402.1L810.3 403.9L820.8 406.4L821.6 409.6L810.3 411.4L807.8 410.1L797.8 413.9L785.3 416.4L774 417.7L770.2 413.9Z"/><path d="M810.3 371.3L819.1 370.6L825.3 370.1L827.3 376.3L822.8 380.6L819.1 377.1L815.3 375.1L811.6 373.1Z"/><path d="M863.4 366.3L870.4 363.8L879.2 363.1L887.9 367.6L896.7 372.1L897.4 375.1L890.4 376.3L880.4 373.1L872.9 370.6L866.6 368.1Z"/><path d="M883.7 359.3L885.4 359.3L885.4 361.1L883.7 361.1Z"/><path d="M896.4 351.1L898.4 352.6L896.4 352.6Z"/><path d="M905.4 352.1L910.5 350.1L915 350.8L918 352.6L915 354.6L909.2 354.1Z"/><path d="M920 361.3L925 353.8L935 350.6L943.8 350.1L944.5 355.1L937.5 357.6L932.5 360.1L927.5 363.1L921.3 363.1Z"/><path d="M903.7 371.3L908.7 367.1L915 365.1L922.5 367.6L927 371.3L921.3 373.1L918.8 376.3L915 375.1L910 375.6L905 375.1Z"/><path d="M936.3 368.8L940 366.3L943.8 368.8L941.3 372.1L937.5 371.3Z"/><path d="M933.8 374.6L938.8 373.1L935 376.3Z"/><path d="M940 343L944.5 345L943 346Z"/><path d="M948.8 342.5L952.6 347L949.6 347.5Z"/><path d="M947.5 363.1L952.6 362.1L958.1 360.6"/><path d="M964.6 353.8L967.6 345L971.3 341.3L978.8 340.8L984.6 340L982.6 343L975.1 345.5L968.8 350.1L966.3 354.6Z"/><path d="M1180.9 403.1L1187.9 396.4L1196.7 392.1L1200.4 386.4L1205.4 383.9L1214.2 383.1L1214.2 392.6L1202.9 395.1L1195.4 398.9L1186.7 400.1Z"/><path d="M1185.4 420.2L1192.9 418.2L1197.9 412.6L1204.2 409.6L1207.9 411.4L1210.4 420.2L1207.9 428.9L1200.4 427.2L1191.7 425.2L1189.2 422.2Z"/><path d="M1136.3 323L1138.3 323L1138.3 324.5L1136.3 324.5Z"/><path d="M1165.4 379.6L1167.9 380.1L1166.9 382.1Z"/><path d="M886.4 490.2L888.3 487.3L889.3 480.6L886.4 476.9L888.5 472.6L891.7 472.8L896.3 475L901.2 472.6L904.9 469.5L908.6 471.4L911.6 473L916.6 475.7L921.5 478.4L925.2 473.8L930.7 473.4L936.2 474.8L940.5 474.8L944.2 477.1L939.9 478.1L938.1 476.3L935 479.6L928.9 481.8L921.5 484L912.9 484.9L905.5 486.5L900.6 487.3L896.9 489.2L893.2 488L889.5 489.2Z"/><path d="M969.5 298.2L985.3 297.2L994.6 304.7L994.1 307.7L989.8 306.5L984.1 301L977.8 302.2L970.3 300.2Z"/></g></g>
<g fill="#8b3d12" stroke="#8b3d12" stroke-width="0.5" font-family="'Liberation Mono',monospace" font-size="13.7px" letter-spacing="0.9"><text x="185.5" y="601.2" text-anchor="end">-69</text><text x="356.5" y="601.2" text-anchor="end">-68</text><text x="527.5" y="601.2" text-anchor="end">-67</text><text x="698.5" y="601.2" text-anchor="end">-66</text><text x="870.5" y="601.2" text-anchor="end">-65</text><text x="1041.5" y="601.2" text-anchor="end">-64</text><text x="28" y="256.6">19</text><text x="28" y="436.6">18</text></g>
<text transform="translate(609.2 28.8) scale(0.584 1)" text-anchor="middle" font-family="'Liberation Sans',sans-serif" font-weight="bold" font-size="30.5px" fill="#0000ff" stroke="#0000ff" stroke-width="0.9" vector-effect="non-scaling-stroke">my future radar - 2025-12-14</text>
<text x="608.4" y="58.7" text-anchor="middle" xml:space="preserve" class="mono" font-size="19.94px" fill="#000">10:00 PM PST / 11:00 PM MST / 12:00 AM CST /  1:00 AM EST</text>
<text x="609.4" y="631.8" text-anchor="middle" xml:space="preserve" class="mono" font-size="16.66px" fill="#fff">Source: Puerto Rico HRW-FV3 forecast model - 20251213 06 UTC</text>
<text x="609.2" y="653.5" text-anchor="middle" class="mono" font-size="16.6px" fill="#ff0000">myfutureradar.com</text>
</svg>
</body></html>
